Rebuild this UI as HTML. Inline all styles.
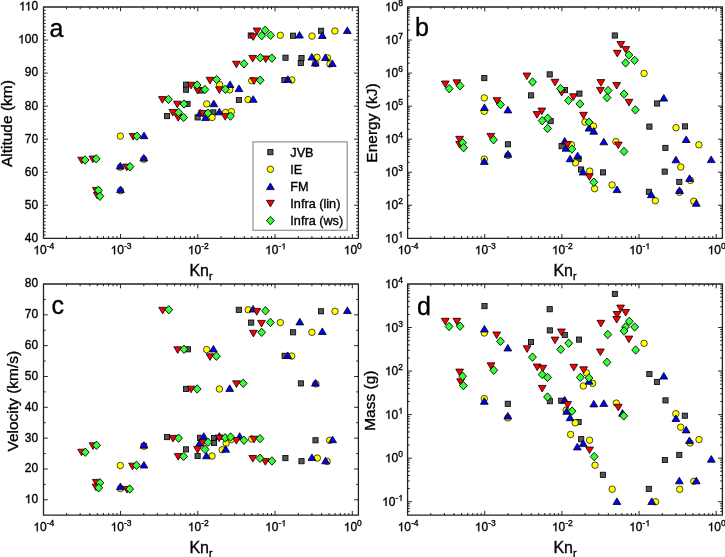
<!DOCTYPE html>
<html><head><meta charset="utf-8"><style>
html,body{margin:0;padding:0;background:#fff;}
svg{display:block;filter:blur(0.3px);font-family:"Liberation Sans",sans-serif;}
text{stroke:#000;stroke-width:0.35px;}
</style></head><body>
<svg width="725" height="557" viewBox="0 0 725 557" style='font-family:"Liberation Sans",sans-serif'>
<defs>
<rect id="mS" x="-2.6" y="-2.6" width="5.2" height="5.2" fill="#555" stroke="#000" stroke-width="0.8"/>
<circle id="mC" r="3.25" fill="#ff0" stroke="#000" stroke-width="0.7"/>
<polygon id="mU" points="0,-3.4 3.9,3.2 -3.9,3.2" fill="#00f" stroke="#000" stroke-width="0.8" stroke-linejoin="round"/>
<polygon id="mD" points="0,3.4 3.9,-3.2 -3.9,-3.2" fill="#f00" stroke="#000" stroke-width="0.8" stroke-linejoin="round"/>
<polygon id="mG" points="0,-4.2 3.9,0 0,4.2 -3.9,0" fill="#3f3" stroke="#000" stroke-width="0.9"/>
</defs>
<line x1="66.55" y1="238.30" x2="66.55" y2="236.10" stroke="#222" stroke-width="1.0"/>
<line x1="66.55" y1="7.00" x2="66.55" y2="9.20" stroke="#222" stroke-width="1.0"/>
<line x1="80.16" y1="238.30" x2="80.16" y2="236.10" stroke="#222" stroke-width="1.0"/>
<line x1="80.16" y1="7.00" x2="80.16" y2="9.20" stroke="#222" stroke-width="1.0"/>
<line x1="89.81" y1="238.30" x2="89.81" y2="236.10" stroke="#222" stroke-width="1.0"/>
<line x1="89.81" y1="7.00" x2="89.81" y2="9.20" stroke="#222" stroke-width="1.0"/>
<line x1="97.30" y1="238.30" x2="97.30" y2="236.10" stroke="#222" stroke-width="1.0"/>
<line x1="97.30" y1="7.00" x2="97.30" y2="9.20" stroke="#222" stroke-width="1.0"/>
<line x1="103.41" y1="238.30" x2="103.41" y2="236.10" stroke="#222" stroke-width="1.0"/>
<line x1="103.41" y1="7.00" x2="103.41" y2="9.20" stroke="#222" stroke-width="1.0"/>
<line x1="108.58" y1="238.30" x2="108.58" y2="236.10" stroke="#222" stroke-width="1.0"/>
<line x1="108.58" y1="7.00" x2="108.58" y2="9.20" stroke="#222" stroke-width="1.0"/>
<line x1="113.06" y1="238.30" x2="113.06" y2="236.10" stroke="#222" stroke-width="1.0"/>
<line x1="113.06" y1="7.00" x2="113.06" y2="9.20" stroke="#222" stroke-width="1.0"/>
<line x1="117.02" y1="238.30" x2="117.02" y2="236.10" stroke="#222" stroke-width="1.0"/>
<line x1="117.02" y1="7.00" x2="117.02" y2="9.20" stroke="#222" stroke-width="1.0"/>
<line x1="120.55" y1="238.30" x2="120.55" y2="234.00" stroke="#222" stroke-width="1.0"/>
<line x1="120.55" y1="7.00" x2="120.55" y2="11.30" stroke="#222" stroke-width="1.0"/>
<line x1="143.80" y1="238.30" x2="143.80" y2="236.10" stroke="#222" stroke-width="1.0"/>
<line x1="143.80" y1="7.00" x2="143.80" y2="9.20" stroke="#222" stroke-width="1.0"/>
<line x1="157.41" y1="238.30" x2="157.41" y2="236.10" stroke="#222" stroke-width="1.0"/>
<line x1="157.41" y1="7.00" x2="157.41" y2="9.20" stroke="#222" stroke-width="1.0"/>
<line x1="167.06" y1="238.30" x2="167.06" y2="236.10" stroke="#222" stroke-width="1.0"/>
<line x1="167.06" y1="7.00" x2="167.06" y2="9.20" stroke="#222" stroke-width="1.0"/>
<line x1="174.55" y1="238.30" x2="174.55" y2="236.10" stroke="#222" stroke-width="1.0"/>
<line x1="174.55" y1="7.00" x2="174.55" y2="9.20" stroke="#222" stroke-width="1.0"/>
<line x1="180.66" y1="238.30" x2="180.66" y2="236.10" stroke="#222" stroke-width="1.0"/>
<line x1="180.66" y1="7.00" x2="180.66" y2="9.20" stroke="#222" stroke-width="1.0"/>
<line x1="185.83" y1="238.30" x2="185.83" y2="236.10" stroke="#222" stroke-width="1.0"/>
<line x1="185.83" y1="7.00" x2="185.83" y2="9.20" stroke="#222" stroke-width="1.0"/>
<line x1="190.31" y1="238.30" x2="190.31" y2="236.10" stroke="#222" stroke-width="1.0"/>
<line x1="190.31" y1="7.00" x2="190.31" y2="9.20" stroke="#222" stroke-width="1.0"/>
<line x1="194.27" y1="238.30" x2="194.27" y2="236.10" stroke="#222" stroke-width="1.0"/>
<line x1="194.27" y1="7.00" x2="194.27" y2="9.20" stroke="#222" stroke-width="1.0"/>
<line x1="197.80" y1="238.30" x2="197.80" y2="234.00" stroke="#222" stroke-width="1.0"/>
<line x1="197.80" y1="7.00" x2="197.80" y2="11.30" stroke="#222" stroke-width="1.0"/>
<line x1="221.05" y1="238.30" x2="221.05" y2="236.10" stroke="#222" stroke-width="1.0"/>
<line x1="221.05" y1="7.00" x2="221.05" y2="9.20" stroke="#222" stroke-width="1.0"/>
<line x1="234.66" y1="238.30" x2="234.66" y2="236.10" stroke="#222" stroke-width="1.0"/>
<line x1="234.66" y1="7.00" x2="234.66" y2="9.20" stroke="#222" stroke-width="1.0"/>
<line x1="244.31" y1="238.30" x2="244.31" y2="236.10" stroke="#222" stroke-width="1.0"/>
<line x1="244.31" y1="7.00" x2="244.31" y2="9.20" stroke="#222" stroke-width="1.0"/>
<line x1="251.80" y1="238.30" x2="251.80" y2="236.10" stroke="#222" stroke-width="1.0"/>
<line x1="251.80" y1="7.00" x2="251.80" y2="9.20" stroke="#222" stroke-width="1.0"/>
<line x1="257.91" y1="238.30" x2="257.91" y2="236.10" stroke="#222" stroke-width="1.0"/>
<line x1="257.91" y1="7.00" x2="257.91" y2="9.20" stroke="#222" stroke-width="1.0"/>
<line x1="263.08" y1="238.30" x2="263.08" y2="236.10" stroke="#222" stroke-width="1.0"/>
<line x1="263.08" y1="7.00" x2="263.08" y2="9.20" stroke="#222" stroke-width="1.0"/>
<line x1="267.56" y1="238.30" x2="267.56" y2="236.10" stroke="#222" stroke-width="1.0"/>
<line x1="267.56" y1="7.00" x2="267.56" y2="9.20" stroke="#222" stroke-width="1.0"/>
<line x1="271.52" y1="238.30" x2="271.52" y2="236.10" stroke="#222" stroke-width="1.0"/>
<line x1="271.52" y1="7.00" x2="271.52" y2="9.20" stroke="#222" stroke-width="1.0"/>
<line x1="275.05" y1="238.30" x2="275.05" y2="234.00" stroke="#222" stroke-width="1.0"/>
<line x1="275.05" y1="7.00" x2="275.05" y2="11.30" stroke="#222" stroke-width="1.0"/>
<line x1="298.30" y1="238.30" x2="298.30" y2="236.10" stroke="#222" stroke-width="1.0"/>
<line x1="298.30" y1="7.00" x2="298.30" y2="9.20" stroke="#222" stroke-width="1.0"/>
<line x1="311.91" y1="238.30" x2="311.91" y2="236.10" stroke="#222" stroke-width="1.0"/>
<line x1="311.91" y1="7.00" x2="311.91" y2="9.20" stroke="#222" stroke-width="1.0"/>
<line x1="321.56" y1="238.30" x2="321.56" y2="236.10" stroke="#222" stroke-width="1.0"/>
<line x1="321.56" y1="7.00" x2="321.56" y2="9.20" stroke="#222" stroke-width="1.0"/>
<line x1="329.05" y1="238.30" x2="329.05" y2="236.10" stroke="#222" stroke-width="1.0"/>
<line x1="329.05" y1="7.00" x2="329.05" y2="9.20" stroke="#222" stroke-width="1.0"/>
<line x1="335.16" y1="238.30" x2="335.16" y2="236.10" stroke="#222" stroke-width="1.0"/>
<line x1="335.16" y1="7.00" x2="335.16" y2="9.20" stroke="#222" stroke-width="1.0"/>
<line x1="340.33" y1="238.30" x2="340.33" y2="236.10" stroke="#222" stroke-width="1.0"/>
<line x1="340.33" y1="7.00" x2="340.33" y2="9.20" stroke="#222" stroke-width="1.0"/>
<line x1="344.81" y1="238.30" x2="344.81" y2="236.10" stroke="#222" stroke-width="1.0"/>
<line x1="344.81" y1="7.00" x2="344.81" y2="9.20" stroke="#222" stroke-width="1.0"/>
<line x1="348.77" y1="238.30" x2="348.77" y2="236.10" stroke="#222" stroke-width="1.0"/>
<line x1="348.77" y1="7.00" x2="348.77" y2="9.20" stroke="#222" stroke-width="1.0"/>
<line x1="352.30" y1="238.30" x2="352.30" y2="234.00" stroke="#222" stroke-width="1.0"/>
<line x1="352.30" y1="7.00" x2="352.30" y2="11.30" stroke="#222" stroke-width="1.0"/>
<path d="M763,0L583,0L583,1147Q518,1085 412.5,1023Q307,961 223,930L223,1104Q374,1175 487,1276Q600,1377 647,1466L763,1466Z" transform="translate(33.35,254.30) scale(0.00586,-0.00586)" stroke="#000" stroke-width="59.7"/>
<text x="40.02" y="254.30" font-size="12" text-anchor="start" >0</text>
<text x="46.69" y="249.30" font-size="8.5" text-anchor="start" >-4</text>
<path d="M763,0L583,0L583,1147Q518,1085 412.5,1023Q307,961 223,930L223,1104Q374,1175 487,1276Q600,1377 647,1466L763,1466Z" transform="translate(110.60,254.30) scale(0.00586,-0.00586)" stroke="#000" stroke-width="59.7"/>
<text x="117.27" y="254.30" font-size="12" text-anchor="start" >0</text>
<text x="123.94" y="249.30" font-size="8.5" text-anchor="start" >-3</text>
<path d="M763,0L583,0L583,1147Q518,1085 412.5,1023Q307,961 223,930L223,1104Q374,1175 487,1276Q600,1377 647,1466L763,1466Z" transform="translate(187.85,254.30) scale(0.00586,-0.00586)" stroke="#000" stroke-width="59.7"/>
<text x="194.52" y="254.30" font-size="12" text-anchor="start" >0</text>
<text x="201.19" y="249.30" font-size="8.5" text-anchor="start" >-2</text>
<path d="M763,0L583,0L583,1147Q518,1085 412.5,1023Q307,961 223,930L223,1104Q374,1175 487,1276Q600,1377 647,1466L763,1466Z" transform="translate(265.10,254.30) scale(0.00586,-0.00586)" stroke="#000" stroke-width="59.7"/>
<text x="271.77" y="254.30" font-size="12" text-anchor="start" >0</text>
<text x="278.44" y="249.30" font-size="8.5" text-anchor="start" >-</text>
<path d="M763,0L583,0L583,1147Q518,1085 412.5,1023Q307,961 223,930L223,1104Q374,1175 487,1276Q600,1377 647,1466L763,1466Z" transform="translate(281.28,249.30) scale(0.00415,-0.00415)" stroke="#000" stroke-width="84.3"/>
<path d="M763,0L583,0L583,1147Q518,1085 412.5,1023Q307,961 223,930L223,1104Q374,1175 487,1276Q600,1377 647,1466L763,1466Z" transform="translate(343.76,254.30) scale(0.00586,-0.00586)" stroke="#000" stroke-width="59.7"/>
<text x="350.44" y="254.30" font-size="12" text-anchor="start" >0</text>
<text x="357.11" y="249.30" font-size="8.5" text-anchor="start" >0</text>
<line x1="43.50" y1="235.00" x2="45.70" y2="235.00" stroke="#222" stroke-width="1.0"/>
<line x1="358.40" y1="235.00" x2="356.20" y2="235.00" stroke="#222" stroke-width="1.0"/>
<line x1="43.50" y1="231.69" x2="45.70" y2="231.69" stroke="#222" stroke-width="1.0"/>
<line x1="358.40" y1="231.69" x2="356.20" y2="231.69" stroke="#222" stroke-width="1.0"/>
<line x1="43.50" y1="228.39" x2="45.70" y2="228.39" stroke="#222" stroke-width="1.0"/>
<line x1="358.40" y1="228.39" x2="356.20" y2="228.39" stroke="#222" stroke-width="1.0"/>
<line x1="43.50" y1="225.08" x2="45.70" y2="225.08" stroke="#222" stroke-width="1.0"/>
<line x1="358.40" y1="225.08" x2="356.20" y2="225.08" stroke="#222" stroke-width="1.0"/>
<line x1="43.50" y1="221.78" x2="45.70" y2="221.78" stroke="#222" stroke-width="1.0"/>
<line x1="358.40" y1="221.78" x2="356.20" y2="221.78" stroke="#222" stroke-width="1.0"/>
<line x1="43.50" y1="218.47" x2="45.70" y2="218.47" stroke="#222" stroke-width="1.0"/>
<line x1="358.40" y1="218.47" x2="356.20" y2="218.47" stroke="#222" stroke-width="1.0"/>
<line x1="43.50" y1="215.17" x2="45.70" y2="215.17" stroke="#222" stroke-width="1.0"/>
<line x1="358.40" y1="215.17" x2="356.20" y2="215.17" stroke="#222" stroke-width="1.0"/>
<line x1="43.50" y1="211.87" x2="45.70" y2="211.87" stroke="#222" stroke-width="1.0"/>
<line x1="358.40" y1="211.87" x2="356.20" y2="211.87" stroke="#222" stroke-width="1.0"/>
<line x1="43.50" y1="208.56" x2="45.70" y2="208.56" stroke="#222" stroke-width="1.0"/>
<line x1="358.40" y1="208.56" x2="356.20" y2="208.56" stroke="#222" stroke-width="1.0"/>
<line x1="43.50" y1="205.26" x2="47.80" y2="205.26" stroke="#222" stroke-width="1.0"/>
<line x1="358.40" y1="205.26" x2="354.10" y2="205.26" stroke="#222" stroke-width="1.0"/>
<line x1="43.50" y1="201.95" x2="45.70" y2="201.95" stroke="#222" stroke-width="1.0"/>
<line x1="358.40" y1="201.95" x2="356.20" y2="201.95" stroke="#222" stroke-width="1.0"/>
<line x1="43.50" y1="198.65" x2="45.70" y2="198.65" stroke="#222" stroke-width="1.0"/>
<line x1="358.40" y1="198.65" x2="356.20" y2="198.65" stroke="#222" stroke-width="1.0"/>
<line x1="43.50" y1="195.34" x2="45.70" y2="195.34" stroke="#222" stroke-width="1.0"/>
<line x1="358.40" y1="195.34" x2="356.20" y2="195.34" stroke="#222" stroke-width="1.0"/>
<line x1="43.50" y1="192.04" x2="45.70" y2="192.04" stroke="#222" stroke-width="1.0"/>
<line x1="358.40" y1="192.04" x2="356.20" y2="192.04" stroke="#222" stroke-width="1.0"/>
<line x1="43.50" y1="188.74" x2="45.70" y2="188.74" stroke="#222" stroke-width="1.0"/>
<line x1="358.40" y1="188.74" x2="356.20" y2="188.74" stroke="#222" stroke-width="1.0"/>
<line x1="43.50" y1="185.43" x2="45.70" y2="185.43" stroke="#222" stroke-width="1.0"/>
<line x1="358.40" y1="185.43" x2="356.20" y2="185.43" stroke="#222" stroke-width="1.0"/>
<line x1="43.50" y1="182.13" x2="45.70" y2="182.13" stroke="#222" stroke-width="1.0"/>
<line x1="358.40" y1="182.13" x2="356.20" y2="182.13" stroke="#222" stroke-width="1.0"/>
<line x1="43.50" y1="178.82" x2="45.70" y2="178.82" stroke="#222" stroke-width="1.0"/>
<line x1="358.40" y1="178.82" x2="356.20" y2="178.82" stroke="#222" stroke-width="1.0"/>
<line x1="43.50" y1="175.52" x2="45.70" y2="175.52" stroke="#222" stroke-width="1.0"/>
<line x1="358.40" y1="175.52" x2="356.20" y2="175.52" stroke="#222" stroke-width="1.0"/>
<line x1="43.50" y1="172.21" x2="47.80" y2="172.21" stroke="#222" stroke-width="1.0"/>
<line x1="358.40" y1="172.21" x2="354.10" y2="172.21" stroke="#222" stroke-width="1.0"/>
<line x1="43.50" y1="168.91" x2="45.70" y2="168.91" stroke="#222" stroke-width="1.0"/>
<line x1="358.40" y1="168.91" x2="356.20" y2="168.91" stroke="#222" stroke-width="1.0"/>
<line x1="43.50" y1="165.61" x2="45.70" y2="165.61" stroke="#222" stroke-width="1.0"/>
<line x1="358.40" y1="165.61" x2="356.20" y2="165.61" stroke="#222" stroke-width="1.0"/>
<line x1="43.50" y1="162.30" x2="45.70" y2="162.30" stroke="#222" stroke-width="1.0"/>
<line x1="358.40" y1="162.30" x2="356.20" y2="162.30" stroke="#222" stroke-width="1.0"/>
<line x1="43.50" y1="159.00" x2="45.70" y2="159.00" stroke="#222" stroke-width="1.0"/>
<line x1="358.40" y1="159.00" x2="356.20" y2="159.00" stroke="#222" stroke-width="1.0"/>
<line x1="43.50" y1="155.69" x2="45.70" y2="155.69" stroke="#222" stroke-width="1.0"/>
<line x1="358.40" y1="155.69" x2="356.20" y2="155.69" stroke="#222" stroke-width="1.0"/>
<line x1="43.50" y1="152.39" x2="45.70" y2="152.39" stroke="#222" stroke-width="1.0"/>
<line x1="358.40" y1="152.39" x2="356.20" y2="152.39" stroke="#222" stroke-width="1.0"/>
<line x1="43.50" y1="149.08" x2="45.70" y2="149.08" stroke="#222" stroke-width="1.0"/>
<line x1="358.40" y1="149.08" x2="356.20" y2="149.08" stroke="#222" stroke-width="1.0"/>
<line x1="43.50" y1="145.78" x2="45.70" y2="145.78" stroke="#222" stroke-width="1.0"/>
<line x1="358.40" y1="145.78" x2="356.20" y2="145.78" stroke="#222" stroke-width="1.0"/>
<line x1="43.50" y1="142.48" x2="45.70" y2="142.48" stroke="#222" stroke-width="1.0"/>
<line x1="358.40" y1="142.48" x2="356.20" y2="142.48" stroke="#222" stroke-width="1.0"/>
<line x1="43.50" y1="139.17" x2="47.80" y2="139.17" stroke="#222" stroke-width="1.0"/>
<line x1="358.40" y1="139.17" x2="354.10" y2="139.17" stroke="#222" stroke-width="1.0"/>
<line x1="43.50" y1="135.87" x2="45.70" y2="135.87" stroke="#222" stroke-width="1.0"/>
<line x1="358.40" y1="135.87" x2="356.20" y2="135.87" stroke="#222" stroke-width="1.0"/>
<line x1="43.50" y1="132.56" x2="45.70" y2="132.56" stroke="#222" stroke-width="1.0"/>
<line x1="358.40" y1="132.56" x2="356.20" y2="132.56" stroke="#222" stroke-width="1.0"/>
<line x1="43.50" y1="129.26" x2="45.70" y2="129.26" stroke="#222" stroke-width="1.0"/>
<line x1="358.40" y1="129.26" x2="356.20" y2="129.26" stroke="#222" stroke-width="1.0"/>
<line x1="43.50" y1="125.95" x2="45.70" y2="125.95" stroke="#222" stroke-width="1.0"/>
<line x1="358.40" y1="125.95" x2="356.20" y2="125.95" stroke="#222" stroke-width="1.0"/>
<line x1="43.50" y1="122.65" x2="45.70" y2="122.65" stroke="#222" stroke-width="1.0"/>
<line x1="358.40" y1="122.65" x2="356.20" y2="122.65" stroke="#222" stroke-width="1.0"/>
<line x1="43.50" y1="119.35" x2="45.70" y2="119.35" stroke="#222" stroke-width="1.0"/>
<line x1="358.40" y1="119.35" x2="356.20" y2="119.35" stroke="#222" stroke-width="1.0"/>
<line x1="43.50" y1="116.04" x2="45.70" y2="116.04" stroke="#222" stroke-width="1.0"/>
<line x1="358.40" y1="116.04" x2="356.20" y2="116.04" stroke="#222" stroke-width="1.0"/>
<line x1="43.50" y1="112.74" x2="45.70" y2="112.74" stroke="#222" stroke-width="1.0"/>
<line x1="358.40" y1="112.74" x2="356.20" y2="112.74" stroke="#222" stroke-width="1.0"/>
<line x1="43.50" y1="109.43" x2="45.70" y2="109.43" stroke="#222" stroke-width="1.0"/>
<line x1="358.40" y1="109.43" x2="356.20" y2="109.43" stroke="#222" stroke-width="1.0"/>
<line x1="43.50" y1="106.13" x2="47.80" y2="106.13" stroke="#222" stroke-width="1.0"/>
<line x1="358.40" y1="106.13" x2="354.10" y2="106.13" stroke="#222" stroke-width="1.0"/>
<line x1="43.50" y1="102.82" x2="45.70" y2="102.82" stroke="#222" stroke-width="1.0"/>
<line x1="358.40" y1="102.82" x2="356.20" y2="102.82" stroke="#222" stroke-width="1.0"/>
<line x1="43.50" y1="99.52" x2="45.70" y2="99.52" stroke="#222" stroke-width="1.0"/>
<line x1="358.40" y1="99.52" x2="356.20" y2="99.52" stroke="#222" stroke-width="1.0"/>
<line x1="43.50" y1="96.22" x2="45.70" y2="96.22" stroke="#222" stroke-width="1.0"/>
<line x1="358.40" y1="96.22" x2="356.20" y2="96.22" stroke="#222" stroke-width="1.0"/>
<line x1="43.50" y1="92.91" x2="45.70" y2="92.91" stroke="#222" stroke-width="1.0"/>
<line x1="358.40" y1="92.91" x2="356.20" y2="92.91" stroke="#222" stroke-width="1.0"/>
<line x1="43.50" y1="89.61" x2="45.70" y2="89.61" stroke="#222" stroke-width="1.0"/>
<line x1="358.40" y1="89.61" x2="356.20" y2="89.61" stroke="#222" stroke-width="1.0"/>
<line x1="43.50" y1="86.30" x2="45.70" y2="86.30" stroke="#222" stroke-width="1.0"/>
<line x1="358.40" y1="86.30" x2="356.20" y2="86.30" stroke="#222" stroke-width="1.0"/>
<line x1="43.50" y1="83.00" x2="45.70" y2="83.00" stroke="#222" stroke-width="1.0"/>
<line x1="358.40" y1="83.00" x2="356.20" y2="83.00" stroke="#222" stroke-width="1.0"/>
<line x1="43.50" y1="79.69" x2="45.70" y2="79.69" stroke="#222" stroke-width="1.0"/>
<line x1="358.40" y1="79.69" x2="356.20" y2="79.69" stroke="#222" stroke-width="1.0"/>
<line x1="43.50" y1="76.39" x2="45.70" y2="76.39" stroke="#222" stroke-width="1.0"/>
<line x1="358.40" y1="76.39" x2="356.20" y2="76.39" stroke="#222" stroke-width="1.0"/>
<line x1="43.50" y1="73.09" x2="47.80" y2="73.09" stroke="#222" stroke-width="1.0"/>
<line x1="358.40" y1="73.09" x2="354.10" y2="73.09" stroke="#222" stroke-width="1.0"/>
<line x1="43.50" y1="69.78" x2="45.70" y2="69.78" stroke="#222" stroke-width="1.0"/>
<line x1="358.40" y1="69.78" x2="356.20" y2="69.78" stroke="#222" stroke-width="1.0"/>
<line x1="43.50" y1="66.48" x2="45.70" y2="66.48" stroke="#222" stroke-width="1.0"/>
<line x1="358.40" y1="66.48" x2="356.20" y2="66.48" stroke="#222" stroke-width="1.0"/>
<line x1="43.50" y1="63.17" x2="45.70" y2="63.17" stroke="#222" stroke-width="1.0"/>
<line x1="358.40" y1="63.17" x2="356.20" y2="63.17" stroke="#222" stroke-width="1.0"/>
<line x1="43.50" y1="59.87" x2="45.70" y2="59.87" stroke="#222" stroke-width="1.0"/>
<line x1="358.40" y1="59.87" x2="356.20" y2="59.87" stroke="#222" stroke-width="1.0"/>
<line x1="43.50" y1="56.56" x2="45.70" y2="56.56" stroke="#222" stroke-width="1.0"/>
<line x1="358.40" y1="56.56" x2="356.20" y2="56.56" stroke="#222" stroke-width="1.0"/>
<line x1="43.50" y1="53.26" x2="45.70" y2="53.26" stroke="#222" stroke-width="1.0"/>
<line x1="358.40" y1="53.26" x2="356.20" y2="53.26" stroke="#222" stroke-width="1.0"/>
<line x1="43.50" y1="49.96" x2="45.70" y2="49.96" stroke="#222" stroke-width="1.0"/>
<line x1="358.40" y1="49.96" x2="356.20" y2="49.96" stroke="#222" stroke-width="1.0"/>
<line x1="43.50" y1="46.65" x2="45.70" y2="46.65" stroke="#222" stroke-width="1.0"/>
<line x1="358.40" y1="46.65" x2="356.20" y2="46.65" stroke="#222" stroke-width="1.0"/>
<line x1="43.50" y1="43.35" x2="45.70" y2="43.35" stroke="#222" stroke-width="1.0"/>
<line x1="358.40" y1="43.35" x2="356.20" y2="43.35" stroke="#222" stroke-width="1.0"/>
<line x1="43.50" y1="40.04" x2="47.80" y2="40.04" stroke="#222" stroke-width="1.0"/>
<line x1="358.40" y1="40.04" x2="354.10" y2="40.04" stroke="#222" stroke-width="1.0"/>
<line x1="43.50" y1="36.74" x2="45.70" y2="36.74" stroke="#222" stroke-width="1.0"/>
<line x1="358.40" y1="36.74" x2="356.20" y2="36.74" stroke="#222" stroke-width="1.0"/>
<line x1="43.50" y1="33.43" x2="45.70" y2="33.43" stroke="#222" stroke-width="1.0"/>
<line x1="358.40" y1="33.43" x2="356.20" y2="33.43" stroke="#222" stroke-width="1.0"/>
<line x1="43.50" y1="30.13" x2="45.70" y2="30.13" stroke="#222" stroke-width="1.0"/>
<line x1="358.40" y1="30.13" x2="356.20" y2="30.13" stroke="#222" stroke-width="1.0"/>
<line x1="43.50" y1="26.83" x2="45.70" y2="26.83" stroke="#222" stroke-width="1.0"/>
<line x1="358.40" y1="26.83" x2="356.20" y2="26.83" stroke="#222" stroke-width="1.0"/>
<line x1="43.50" y1="23.52" x2="45.70" y2="23.52" stroke="#222" stroke-width="1.0"/>
<line x1="358.40" y1="23.52" x2="356.20" y2="23.52" stroke="#222" stroke-width="1.0"/>
<line x1="43.50" y1="20.22" x2="45.70" y2="20.22" stroke="#222" stroke-width="1.0"/>
<line x1="358.40" y1="20.22" x2="356.20" y2="20.22" stroke="#222" stroke-width="1.0"/>
<line x1="43.50" y1="16.91" x2="45.70" y2="16.91" stroke="#222" stroke-width="1.0"/>
<line x1="358.40" y1="16.91" x2="356.20" y2="16.91" stroke="#222" stroke-width="1.0"/>
<line x1="43.50" y1="13.61" x2="45.70" y2="13.61" stroke="#222" stroke-width="1.0"/>
<line x1="358.40" y1="13.61" x2="356.20" y2="13.61" stroke="#222" stroke-width="1.0"/>
<line x1="43.50" y1="10.30" x2="45.70" y2="10.30" stroke="#222" stroke-width="1.0"/>
<line x1="358.40" y1="10.30" x2="356.20" y2="10.30" stroke="#222" stroke-width="1.0"/>
<text x="24.75" y="241.70" font-size="12" text-anchor="start" >40</text>
<text x="24.75" y="208.66" font-size="12" text-anchor="start" >50</text>
<text x="24.75" y="175.61" font-size="12" text-anchor="start" >60</text>
<text x="24.75" y="142.57" font-size="12" text-anchor="start" >70</text>
<text x="24.75" y="109.53" font-size="12" text-anchor="start" >80</text>
<text x="24.75" y="76.49" font-size="12" text-anchor="start" >90</text>
<path d="M763,0L583,0L583,1147Q518,1085 412.5,1023Q307,961 223,930L223,1104Q374,1175 487,1276Q600,1377 647,1466L763,1466Z" transform="translate(18.08,43.44) scale(0.00586,-0.00586)" stroke="#000" stroke-width="59.7"/>
<text x="24.75" y="43.44" font-size="12" text-anchor="start" >00</text>
<path d="M763,0L583,0L583,1147Q518,1085 412.5,1023Q307,961 223,930L223,1104Q374,1175 487,1276Q600,1377 647,1466L763,1466Z" transform="translate(18.97,10.40) scale(0.00586,-0.00586)" stroke="#000" stroke-width="59.7"/>
<path d="M763,0L583,0L583,1147Q518,1085 412.5,1023Q307,961 223,930L223,1104Q374,1175 487,1276Q600,1377 647,1466L763,1466Z" transform="translate(24.75,10.40) scale(0.00586,-0.00586)" stroke="#000" stroke-width="59.7"/>
<text x="31.43" y="10.40" font-size="12" text-anchor="start" >0</text>
<rect x="43.50" y="7.00" width="314.90" height="231.30" fill="none" stroke="#222" stroke-width="1.3" stroke-linejoin="round"/>
<line x1="430.82" y1="238.30" x2="430.82" y2="236.10" stroke="#222" stroke-width="1.0"/>
<line x1="430.82" y1="7.00" x2="430.82" y2="9.20" stroke="#222" stroke-width="1.0"/>
<line x1="444.41" y1="238.30" x2="444.41" y2="236.10" stroke="#222" stroke-width="1.0"/>
<line x1="444.41" y1="7.00" x2="444.41" y2="9.20" stroke="#222" stroke-width="1.0"/>
<line x1="454.05" y1="238.30" x2="454.05" y2="236.10" stroke="#222" stroke-width="1.0"/>
<line x1="454.05" y1="7.00" x2="454.05" y2="9.20" stroke="#222" stroke-width="1.0"/>
<line x1="461.53" y1="238.30" x2="461.53" y2="236.10" stroke="#222" stroke-width="1.0"/>
<line x1="461.53" y1="7.00" x2="461.53" y2="9.20" stroke="#222" stroke-width="1.0"/>
<line x1="467.63" y1="238.30" x2="467.63" y2="236.10" stroke="#222" stroke-width="1.0"/>
<line x1="467.63" y1="7.00" x2="467.63" y2="9.20" stroke="#222" stroke-width="1.0"/>
<line x1="472.80" y1="238.30" x2="472.80" y2="236.10" stroke="#222" stroke-width="1.0"/>
<line x1="472.80" y1="7.00" x2="472.80" y2="9.20" stroke="#222" stroke-width="1.0"/>
<line x1="477.27" y1="238.30" x2="477.27" y2="236.10" stroke="#222" stroke-width="1.0"/>
<line x1="477.27" y1="7.00" x2="477.27" y2="9.20" stroke="#222" stroke-width="1.0"/>
<line x1="481.22" y1="238.30" x2="481.22" y2="236.10" stroke="#222" stroke-width="1.0"/>
<line x1="481.22" y1="7.00" x2="481.22" y2="9.20" stroke="#222" stroke-width="1.0"/>
<line x1="484.75" y1="238.30" x2="484.75" y2="234.00" stroke="#222" stroke-width="1.0"/>
<line x1="484.75" y1="7.00" x2="484.75" y2="11.30" stroke="#222" stroke-width="1.0"/>
<line x1="507.97" y1="238.30" x2="507.97" y2="236.10" stroke="#222" stroke-width="1.0"/>
<line x1="507.97" y1="7.00" x2="507.97" y2="9.20" stroke="#222" stroke-width="1.0"/>
<line x1="521.56" y1="238.30" x2="521.56" y2="236.10" stroke="#222" stroke-width="1.0"/>
<line x1="521.56" y1="7.00" x2="521.56" y2="9.20" stroke="#222" stroke-width="1.0"/>
<line x1="531.20" y1="238.30" x2="531.20" y2="236.10" stroke="#222" stroke-width="1.0"/>
<line x1="531.20" y1="7.00" x2="531.20" y2="9.20" stroke="#222" stroke-width="1.0"/>
<line x1="538.68" y1="238.30" x2="538.68" y2="236.10" stroke="#222" stroke-width="1.0"/>
<line x1="538.68" y1="7.00" x2="538.68" y2="9.20" stroke="#222" stroke-width="1.0"/>
<line x1="544.78" y1="238.30" x2="544.78" y2="236.10" stroke="#222" stroke-width="1.0"/>
<line x1="544.78" y1="7.00" x2="544.78" y2="9.20" stroke="#222" stroke-width="1.0"/>
<line x1="549.95" y1="238.30" x2="549.95" y2="236.10" stroke="#222" stroke-width="1.0"/>
<line x1="549.95" y1="7.00" x2="549.95" y2="9.20" stroke="#222" stroke-width="1.0"/>
<line x1="554.42" y1="238.30" x2="554.42" y2="236.10" stroke="#222" stroke-width="1.0"/>
<line x1="554.42" y1="7.00" x2="554.42" y2="9.20" stroke="#222" stroke-width="1.0"/>
<line x1="558.37" y1="238.30" x2="558.37" y2="236.10" stroke="#222" stroke-width="1.0"/>
<line x1="558.37" y1="7.00" x2="558.37" y2="9.20" stroke="#222" stroke-width="1.0"/>
<line x1="561.90" y1="238.30" x2="561.90" y2="234.00" stroke="#222" stroke-width="1.0"/>
<line x1="561.90" y1="7.00" x2="561.90" y2="11.30" stroke="#222" stroke-width="1.0"/>
<line x1="585.12" y1="238.30" x2="585.12" y2="236.10" stroke="#222" stroke-width="1.0"/>
<line x1="585.12" y1="7.00" x2="585.12" y2="9.20" stroke="#222" stroke-width="1.0"/>
<line x1="598.71" y1="238.30" x2="598.71" y2="236.10" stroke="#222" stroke-width="1.0"/>
<line x1="598.71" y1="7.00" x2="598.71" y2="9.20" stroke="#222" stroke-width="1.0"/>
<line x1="608.35" y1="238.30" x2="608.35" y2="236.10" stroke="#222" stroke-width="1.0"/>
<line x1="608.35" y1="7.00" x2="608.35" y2="9.20" stroke="#222" stroke-width="1.0"/>
<line x1="615.83" y1="238.30" x2="615.83" y2="236.10" stroke="#222" stroke-width="1.0"/>
<line x1="615.83" y1="7.00" x2="615.83" y2="9.20" stroke="#222" stroke-width="1.0"/>
<line x1="621.93" y1="238.30" x2="621.93" y2="236.10" stroke="#222" stroke-width="1.0"/>
<line x1="621.93" y1="7.00" x2="621.93" y2="9.20" stroke="#222" stroke-width="1.0"/>
<line x1="627.10" y1="238.30" x2="627.10" y2="236.10" stroke="#222" stroke-width="1.0"/>
<line x1="627.10" y1="7.00" x2="627.10" y2="9.20" stroke="#222" stroke-width="1.0"/>
<line x1="631.57" y1="238.30" x2="631.57" y2="236.10" stroke="#222" stroke-width="1.0"/>
<line x1="631.57" y1="7.00" x2="631.57" y2="9.20" stroke="#222" stroke-width="1.0"/>
<line x1="635.52" y1="238.30" x2="635.52" y2="236.10" stroke="#222" stroke-width="1.0"/>
<line x1="635.52" y1="7.00" x2="635.52" y2="9.20" stroke="#222" stroke-width="1.0"/>
<line x1="639.05" y1="238.30" x2="639.05" y2="234.00" stroke="#222" stroke-width="1.0"/>
<line x1="639.05" y1="7.00" x2="639.05" y2="11.30" stroke="#222" stroke-width="1.0"/>
<line x1="662.27" y1="238.30" x2="662.27" y2="236.10" stroke="#222" stroke-width="1.0"/>
<line x1="662.27" y1="7.00" x2="662.27" y2="9.20" stroke="#222" stroke-width="1.0"/>
<line x1="675.86" y1="238.30" x2="675.86" y2="236.10" stroke="#222" stroke-width="1.0"/>
<line x1="675.86" y1="7.00" x2="675.86" y2="9.20" stroke="#222" stroke-width="1.0"/>
<line x1="685.50" y1="238.30" x2="685.50" y2="236.10" stroke="#222" stroke-width="1.0"/>
<line x1="685.50" y1="7.00" x2="685.50" y2="9.20" stroke="#222" stroke-width="1.0"/>
<line x1="692.98" y1="238.30" x2="692.98" y2="236.10" stroke="#222" stroke-width="1.0"/>
<line x1="692.98" y1="7.00" x2="692.98" y2="9.20" stroke="#222" stroke-width="1.0"/>
<line x1="699.08" y1="238.30" x2="699.08" y2="236.10" stroke="#222" stroke-width="1.0"/>
<line x1="699.08" y1="7.00" x2="699.08" y2="9.20" stroke="#222" stroke-width="1.0"/>
<line x1="704.25" y1="238.30" x2="704.25" y2="236.10" stroke="#222" stroke-width="1.0"/>
<line x1="704.25" y1="7.00" x2="704.25" y2="9.20" stroke="#222" stroke-width="1.0"/>
<line x1="708.72" y1="238.30" x2="708.72" y2="236.10" stroke="#222" stroke-width="1.0"/>
<line x1="708.72" y1="7.00" x2="708.72" y2="9.20" stroke="#222" stroke-width="1.0"/>
<line x1="712.67" y1="238.30" x2="712.67" y2="236.10" stroke="#222" stroke-width="1.0"/>
<line x1="712.67" y1="7.00" x2="712.67" y2="9.20" stroke="#222" stroke-width="1.0"/>
<line x1="716.20" y1="238.30" x2="716.20" y2="234.00" stroke="#222" stroke-width="1.0"/>
<line x1="716.20" y1="7.00" x2="716.20" y2="11.30" stroke="#222" stroke-width="1.0"/>
<path d="M763,0L583,0L583,1147Q518,1085 412.5,1023Q307,961 223,930L223,1104Q374,1175 487,1276Q600,1377 647,1466L763,1466Z" transform="translate(397.65,254.30) scale(0.00586,-0.00586)" stroke="#000" stroke-width="59.7"/>
<text x="404.32" y="254.30" font-size="12" text-anchor="start" >0</text>
<text x="410.99" y="249.30" font-size="8.5" text-anchor="start" >-4</text>
<path d="M763,0L583,0L583,1147Q518,1085 412.5,1023Q307,961 223,930L223,1104Q374,1175 487,1276Q600,1377 647,1466L763,1466Z" transform="translate(474.80,254.30) scale(0.00586,-0.00586)" stroke="#000" stroke-width="59.7"/>
<text x="481.47" y="254.30" font-size="12" text-anchor="start" >0</text>
<text x="488.14" y="249.30" font-size="8.5" text-anchor="start" >-3</text>
<path d="M763,0L583,0L583,1147Q518,1085 412.5,1023Q307,961 223,930L223,1104Q374,1175 487,1276Q600,1377 647,1466L763,1466Z" transform="translate(551.95,254.30) scale(0.00586,-0.00586)" stroke="#000" stroke-width="59.7"/>
<text x="558.62" y="254.30" font-size="12" text-anchor="start" >0</text>
<text x="565.29" y="249.30" font-size="8.5" text-anchor="start" >-2</text>
<path d="M763,0L583,0L583,1147Q518,1085 412.5,1023Q307,961 223,930L223,1104Q374,1175 487,1276Q600,1377 647,1466L763,1466Z" transform="translate(629.10,254.30) scale(0.00586,-0.00586)" stroke="#000" stroke-width="59.7"/>
<text x="635.77" y="254.30" font-size="12" text-anchor="start" >0</text>
<text x="642.44" y="249.30" font-size="8.5" text-anchor="start" >-</text>
<path d="M763,0L583,0L583,1147Q518,1085 412.5,1023Q307,961 223,930L223,1104Q374,1175 487,1276Q600,1377 647,1466L763,1466Z" transform="translate(645.28,249.30) scale(0.00415,-0.00415)" stroke="#000" stroke-width="84.3"/>
<path d="M763,0L583,0L583,1147Q518,1085 412.5,1023Q307,961 223,930L223,1104Q374,1175 487,1276Q600,1377 647,1466L763,1466Z" transform="translate(707.66,254.30) scale(0.00586,-0.00586)" stroke="#000" stroke-width="59.7"/>
<text x="714.34" y="254.30" font-size="12" text-anchor="start" >0</text>
<text x="721.01" y="249.30" font-size="8.5" text-anchor="start" >0</text>
<line x1="407.60" y1="228.35" x2="409.80" y2="228.35" stroke="#222" stroke-width="1.0"/>
<line x1="722.40" y1="228.35" x2="720.20" y2="228.35" stroke="#222" stroke-width="1.0"/>
<line x1="407.60" y1="222.53" x2="409.80" y2="222.53" stroke="#222" stroke-width="1.0"/>
<line x1="722.40" y1="222.53" x2="720.20" y2="222.53" stroke="#222" stroke-width="1.0"/>
<line x1="407.60" y1="218.41" x2="409.80" y2="218.41" stroke="#222" stroke-width="1.0"/>
<line x1="722.40" y1="218.41" x2="720.20" y2="218.41" stroke="#222" stroke-width="1.0"/>
<line x1="407.60" y1="215.20" x2="409.80" y2="215.20" stroke="#222" stroke-width="1.0"/>
<line x1="722.40" y1="215.20" x2="720.20" y2="215.20" stroke="#222" stroke-width="1.0"/>
<line x1="407.60" y1="212.59" x2="409.80" y2="212.59" stroke="#222" stroke-width="1.0"/>
<line x1="722.40" y1="212.59" x2="720.20" y2="212.59" stroke="#222" stroke-width="1.0"/>
<line x1="407.60" y1="210.38" x2="409.80" y2="210.38" stroke="#222" stroke-width="1.0"/>
<line x1="722.40" y1="210.38" x2="720.20" y2="210.38" stroke="#222" stroke-width="1.0"/>
<line x1="407.60" y1="208.46" x2="409.80" y2="208.46" stroke="#222" stroke-width="1.0"/>
<line x1="722.40" y1="208.46" x2="720.20" y2="208.46" stroke="#222" stroke-width="1.0"/>
<line x1="407.60" y1="206.77" x2="409.80" y2="206.77" stroke="#222" stroke-width="1.0"/>
<line x1="722.40" y1="206.77" x2="720.20" y2="206.77" stroke="#222" stroke-width="1.0"/>
<line x1="407.60" y1="205.26" x2="411.90" y2="205.26" stroke="#222" stroke-width="1.0"/>
<line x1="722.40" y1="205.26" x2="718.10" y2="205.26" stroke="#222" stroke-width="1.0"/>
<line x1="407.60" y1="195.31" x2="409.80" y2="195.31" stroke="#222" stroke-width="1.0"/>
<line x1="722.40" y1="195.31" x2="720.20" y2="195.31" stroke="#222" stroke-width="1.0"/>
<line x1="407.60" y1="189.49" x2="409.80" y2="189.49" stroke="#222" stroke-width="1.0"/>
<line x1="722.40" y1="189.49" x2="720.20" y2="189.49" stroke="#222" stroke-width="1.0"/>
<line x1="407.60" y1="185.36" x2="409.80" y2="185.36" stroke="#222" stroke-width="1.0"/>
<line x1="722.40" y1="185.36" x2="720.20" y2="185.36" stroke="#222" stroke-width="1.0"/>
<line x1="407.60" y1="182.16" x2="409.80" y2="182.16" stroke="#222" stroke-width="1.0"/>
<line x1="722.40" y1="182.16" x2="720.20" y2="182.16" stroke="#222" stroke-width="1.0"/>
<line x1="407.60" y1="179.54" x2="409.80" y2="179.54" stroke="#222" stroke-width="1.0"/>
<line x1="722.40" y1="179.54" x2="720.20" y2="179.54" stroke="#222" stroke-width="1.0"/>
<line x1="407.60" y1="177.33" x2="409.80" y2="177.33" stroke="#222" stroke-width="1.0"/>
<line x1="722.40" y1="177.33" x2="720.20" y2="177.33" stroke="#222" stroke-width="1.0"/>
<line x1="407.60" y1="175.42" x2="409.80" y2="175.42" stroke="#222" stroke-width="1.0"/>
<line x1="722.40" y1="175.42" x2="720.20" y2="175.42" stroke="#222" stroke-width="1.0"/>
<line x1="407.60" y1="173.73" x2="409.80" y2="173.73" stroke="#222" stroke-width="1.0"/>
<line x1="722.40" y1="173.73" x2="720.20" y2="173.73" stroke="#222" stroke-width="1.0"/>
<line x1="407.60" y1="172.21" x2="411.90" y2="172.21" stroke="#222" stroke-width="1.0"/>
<line x1="722.40" y1="172.21" x2="718.10" y2="172.21" stroke="#222" stroke-width="1.0"/>
<line x1="407.60" y1="162.27" x2="409.80" y2="162.27" stroke="#222" stroke-width="1.0"/>
<line x1="722.40" y1="162.27" x2="720.20" y2="162.27" stroke="#222" stroke-width="1.0"/>
<line x1="407.60" y1="156.45" x2="409.80" y2="156.45" stroke="#222" stroke-width="1.0"/>
<line x1="722.40" y1="156.45" x2="720.20" y2="156.45" stroke="#222" stroke-width="1.0"/>
<line x1="407.60" y1="152.32" x2="409.80" y2="152.32" stroke="#222" stroke-width="1.0"/>
<line x1="722.40" y1="152.32" x2="720.20" y2="152.32" stroke="#222" stroke-width="1.0"/>
<line x1="407.60" y1="149.12" x2="409.80" y2="149.12" stroke="#222" stroke-width="1.0"/>
<line x1="722.40" y1="149.12" x2="720.20" y2="149.12" stroke="#222" stroke-width="1.0"/>
<line x1="407.60" y1="146.50" x2="409.80" y2="146.50" stroke="#222" stroke-width="1.0"/>
<line x1="722.40" y1="146.50" x2="720.20" y2="146.50" stroke="#222" stroke-width="1.0"/>
<line x1="407.60" y1="144.29" x2="409.80" y2="144.29" stroke="#222" stroke-width="1.0"/>
<line x1="722.40" y1="144.29" x2="720.20" y2="144.29" stroke="#222" stroke-width="1.0"/>
<line x1="407.60" y1="142.37" x2="409.80" y2="142.37" stroke="#222" stroke-width="1.0"/>
<line x1="722.40" y1="142.37" x2="720.20" y2="142.37" stroke="#222" stroke-width="1.0"/>
<line x1="407.60" y1="140.68" x2="409.80" y2="140.68" stroke="#222" stroke-width="1.0"/>
<line x1="722.40" y1="140.68" x2="720.20" y2="140.68" stroke="#222" stroke-width="1.0"/>
<line x1="407.60" y1="139.17" x2="411.90" y2="139.17" stroke="#222" stroke-width="1.0"/>
<line x1="722.40" y1="139.17" x2="718.10" y2="139.17" stroke="#222" stroke-width="1.0"/>
<line x1="407.60" y1="129.22" x2="409.80" y2="129.22" stroke="#222" stroke-width="1.0"/>
<line x1="722.40" y1="129.22" x2="720.20" y2="129.22" stroke="#222" stroke-width="1.0"/>
<line x1="407.60" y1="123.41" x2="409.80" y2="123.41" stroke="#222" stroke-width="1.0"/>
<line x1="722.40" y1="123.41" x2="720.20" y2="123.41" stroke="#222" stroke-width="1.0"/>
<line x1="407.60" y1="119.28" x2="409.80" y2="119.28" stroke="#222" stroke-width="1.0"/>
<line x1="722.40" y1="119.28" x2="720.20" y2="119.28" stroke="#222" stroke-width="1.0"/>
<line x1="407.60" y1="116.08" x2="409.80" y2="116.08" stroke="#222" stroke-width="1.0"/>
<line x1="722.40" y1="116.08" x2="720.20" y2="116.08" stroke="#222" stroke-width="1.0"/>
<line x1="407.60" y1="113.46" x2="409.80" y2="113.46" stroke="#222" stroke-width="1.0"/>
<line x1="722.40" y1="113.46" x2="720.20" y2="113.46" stroke="#222" stroke-width="1.0"/>
<line x1="407.60" y1="111.25" x2="409.80" y2="111.25" stroke="#222" stroke-width="1.0"/>
<line x1="722.40" y1="111.25" x2="720.20" y2="111.25" stroke="#222" stroke-width="1.0"/>
<line x1="407.60" y1="109.33" x2="409.80" y2="109.33" stroke="#222" stroke-width="1.0"/>
<line x1="722.40" y1="109.33" x2="720.20" y2="109.33" stroke="#222" stroke-width="1.0"/>
<line x1="407.60" y1="107.64" x2="409.80" y2="107.64" stroke="#222" stroke-width="1.0"/>
<line x1="722.40" y1="107.64" x2="720.20" y2="107.64" stroke="#222" stroke-width="1.0"/>
<line x1="407.60" y1="106.13" x2="411.90" y2="106.13" stroke="#222" stroke-width="1.0"/>
<line x1="722.40" y1="106.13" x2="718.10" y2="106.13" stroke="#222" stroke-width="1.0"/>
<line x1="407.60" y1="96.18" x2="409.80" y2="96.18" stroke="#222" stroke-width="1.0"/>
<line x1="722.40" y1="96.18" x2="720.20" y2="96.18" stroke="#222" stroke-width="1.0"/>
<line x1="407.60" y1="90.36" x2="409.80" y2="90.36" stroke="#222" stroke-width="1.0"/>
<line x1="722.40" y1="90.36" x2="720.20" y2="90.36" stroke="#222" stroke-width="1.0"/>
<line x1="407.60" y1="86.23" x2="409.80" y2="86.23" stroke="#222" stroke-width="1.0"/>
<line x1="722.40" y1="86.23" x2="720.20" y2="86.23" stroke="#222" stroke-width="1.0"/>
<line x1="407.60" y1="83.03" x2="409.80" y2="83.03" stroke="#222" stroke-width="1.0"/>
<line x1="722.40" y1="83.03" x2="720.20" y2="83.03" stroke="#222" stroke-width="1.0"/>
<line x1="407.60" y1="80.42" x2="409.80" y2="80.42" stroke="#222" stroke-width="1.0"/>
<line x1="722.40" y1="80.42" x2="720.20" y2="80.42" stroke="#222" stroke-width="1.0"/>
<line x1="407.60" y1="78.20" x2="409.80" y2="78.20" stroke="#222" stroke-width="1.0"/>
<line x1="722.40" y1="78.20" x2="720.20" y2="78.20" stroke="#222" stroke-width="1.0"/>
<line x1="407.60" y1="76.29" x2="409.80" y2="76.29" stroke="#222" stroke-width="1.0"/>
<line x1="722.40" y1="76.29" x2="720.20" y2="76.29" stroke="#222" stroke-width="1.0"/>
<line x1="407.60" y1="74.60" x2="409.80" y2="74.60" stroke="#222" stroke-width="1.0"/>
<line x1="722.40" y1="74.60" x2="720.20" y2="74.60" stroke="#222" stroke-width="1.0"/>
<line x1="407.60" y1="73.09" x2="411.90" y2="73.09" stroke="#222" stroke-width="1.0"/>
<line x1="722.40" y1="73.09" x2="718.10" y2="73.09" stroke="#222" stroke-width="1.0"/>
<line x1="407.60" y1="63.14" x2="409.80" y2="63.14" stroke="#222" stroke-width="1.0"/>
<line x1="722.40" y1="63.14" x2="720.20" y2="63.14" stroke="#222" stroke-width="1.0"/>
<line x1="407.60" y1="57.32" x2="409.80" y2="57.32" stroke="#222" stroke-width="1.0"/>
<line x1="722.40" y1="57.32" x2="720.20" y2="57.32" stroke="#222" stroke-width="1.0"/>
<line x1="407.60" y1="53.19" x2="409.80" y2="53.19" stroke="#222" stroke-width="1.0"/>
<line x1="722.40" y1="53.19" x2="720.20" y2="53.19" stroke="#222" stroke-width="1.0"/>
<line x1="407.60" y1="49.99" x2="409.80" y2="49.99" stroke="#222" stroke-width="1.0"/>
<line x1="722.40" y1="49.99" x2="720.20" y2="49.99" stroke="#222" stroke-width="1.0"/>
<line x1="407.60" y1="47.37" x2="409.80" y2="47.37" stroke="#222" stroke-width="1.0"/>
<line x1="722.40" y1="47.37" x2="720.20" y2="47.37" stroke="#222" stroke-width="1.0"/>
<line x1="407.60" y1="45.16" x2="409.80" y2="45.16" stroke="#222" stroke-width="1.0"/>
<line x1="722.40" y1="45.16" x2="720.20" y2="45.16" stroke="#222" stroke-width="1.0"/>
<line x1="407.60" y1="43.25" x2="409.80" y2="43.25" stroke="#222" stroke-width="1.0"/>
<line x1="722.40" y1="43.25" x2="720.20" y2="43.25" stroke="#222" stroke-width="1.0"/>
<line x1="407.60" y1="41.55" x2="409.80" y2="41.55" stroke="#222" stroke-width="1.0"/>
<line x1="722.40" y1="41.55" x2="720.20" y2="41.55" stroke="#222" stroke-width="1.0"/>
<line x1="407.60" y1="40.04" x2="411.90" y2="40.04" stroke="#222" stroke-width="1.0"/>
<line x1="722.40" y1="40.04" x2="718.10" y2="40.04" stroke="#222" stroke-width="1.0"/>
<line x1="407.60" y1="30.10" x2="409.80" y2="30.10" stroke="#222" stroke-width="1.0"/>
<line x1="722.40" y1="30.10" x2="720.20" y2="30.10" stroke="#222" stroke-width="1.0"/>
<line x1="407.60" y1="24.28" x2="409.80" y2="24.28" stroke="#222" stroke-width="1.0"/>
<line x1="722.40" y1="24.28" x2="720.20" y2="24.28" stroke="#222" stroke-width="1.0"/>
<line x1="407.60" y1="20.15" x2="409.80" y2="20.15" stroke="#222" stroke-width="1.0"/>
<line x1="722.40" y1="20.15" x2="720.20" y2="20.15" stroke="#222" stroke-width="1.0"/>
<line x1="407.60" y1="16.95" x2="409.80" y2="16.95" stroke="#222" stroke-width="1.0"/>
<line x1="722.40" y1="16.95" x2="720.20" y2="16.95" stroke="#222" stroke-width="1.0"/>
<line x1="407.60" y1="14.33" x2="409.80" y2="14.33" stroke="#222" stroke-width="1.0"/>
<line x1="722.40" y1="14.33" x2="720.20" y2="14.33" stroke="#222" stroke-width="1.0"/>
<line x1="407.60" y1="12.12" x2="409.80" y2="12.12" stroke="#222" stroke-width="1.0"/>
<line x1="722.40" y1="12.12" x2="720.20" y2="12.12" stroke="#222" stroke-width="1.0"/>
<line x1="407.60" y1="10.20" x2="409.80" y2="10.20" stroke="#222" stroke-width="1.0"/>
<line x1="722.40" y1="10.20" x2="720.20" y2="10.20" stroke="#222" stroke-width="1.0"/>
<line x1="407.60" y1="8.51" x2="409.80" y2="8.51" stroke="#222" stroke-width="1.0"/>
<line x1="722.40" y1="8.51" x2="720.20" y2="8.51" stroke="#222" stroke-width="1.0"/>
<path d="M763,0L583,0L583,1147Q518,1085 412.5,1023Q307,961 223,930L223,1104Q374,1175 487,1276Q600,1377 647,1466L763,1466Z" transform="translate(384.93,242.50) scale(0.00586,-0.00586)" stroke="#000" stroke-width="59.7"/>
<text x="391.60" y="242.50" font-size="12" text-anchor="start" >0</text>
<path d="M763,0L583,0L583,1147Q518,1085 412.5,1023Q307,961 223,930L223,1104Q374,1175 487,1276Q600,1377 647,1466L763,1466Z" transform="translate(398.27,237.50) scale(0.00415,-0.00415)" stroke="#000" stroke-width="84.3"/>
<path d="M763,0L583,0L583,1147Q518,1085 412.5,1023Q307,961 223,930L223,1104Q374,1175 487,1276Q600,1377 647,1466L763,1466Z" transform="translate(384.93,209.46) scale(0.00586,-0.00586)" stroke="#000" stroke-width="59.7"/>
<text x="391.60" y="209.46" font-size="12" text-anchor="start" >0</text>
<text x="398.27" y="204.46" font-size="8.5" text-anchor="start" >2</text>
<path d="M763,0L583,0L583,1147Q518,1085 412.5,1023Q307,961 223,930L223,1104Q374,1175 487,1276Q600,1377 647,1466L763,1466Z" transform="translate(384.93,176.41) scale(0.00586,-0.00586)" stroke="#000" stroke-width="59.7"/>
<text x="391.60" y="176.41" font-size="12" text-anchor="start" >0</text>
<text x="398.27" y="171.41" font-size="8.5" text-anchor="start" >3</text>
<path d="M763,0L583,0L583,1147Q518,1085 412.5,1023Q307,961 223,930L223,1104Q374,1175 487,1276Q600,1377 647,1466L763,1466Z" transform="translate(384.93,143.37) scale(0.00586,-0.00586)" stroke="#000" stroke-width="59.7"/>
<text x="391.60" y="143.37" font-size="12" text-anchor="start" >0</text>
<text x="398.27" y="138.37" font-size="8.5" text-anchor="start" >4</text>
<path d="M763,0L583,0L583,1147Q518,1085 412.5,1023Q307,961 223,930L223,1104Q374,1175 487,1276Q600,1377 647,1466L763,1466Z" transform="translate(384.93,110.33) scale(0.00586,-0.00586)" stroke="#000" stroke-width="59.7"/>
<text x="391.60" y="110.33" font-size="12" text-anchor="start" >0</text>
<text x="398.27" y="105.33" font-size="8.5" text-anchor="start" >5</text>
<path d="M763,0L583,0L583,1147Q518,1085 412.5,1023Q307,961 223,930L223,1104Q374,1175 487,1276Q600,1377 647,1466L763,1466Z" transform="translate(384.93,77.29) scale(0.00586,-0.00586)" stroke="#000" stroke-width="59.7"/>
<text x="391.60" y="77.29" font-size="12" text-anchor="start" >0</text>
<text x="398.27" y="72.29" font-size="8.5" text-anchor="start" >6</text>
<path d="M763,0L583,0L583,1147Q518,1085 412.5,1023Q307,961 223,930L223,1104Q374,1175 487,1276Q600,1377 647,1466L763,1466Z" transform="translate(384.93,44.24) scale(0.00586,-0.00586)" stroke="#000" stroke-width="59.7"/>
<text x="391.60" y="44.24" font-size="12" text-anchor="start" >0</text>
<text x="398.27" y="39.24" font-size="8.5" text-anchor="start" >7</text>
<path d="M763,0L583,0L583,1147Q518,1085 412.5,1023Q307,961 223,930L223,1104Q374,1175 487,1276Q600,1377 647,1466L763,1466Z" transform="translate(384.93,11.20) scale(0.00586,-0.00586)" stroke="#000" stroke-width="59.7"/>
<text x="391.60" y="11.20" font-size="12" text-anchor="start" >0</text>
<text x="398.27" y="6.20" font-size="8.5" text-anchor="start" >8</text>
<rect x="407.60" y="7.00" width="314.80" height="231.30" fill="none" stroke="#222" stroke-width="1.3" stroke-linejoin="round"/>
<line x1="66.55" y1="515.20" x2="66.55" y2="513.00" stroke="#222" stroke-width="1.0"/>
<line x1="66.55" y1="284.00" x2="66.55" y2="286.20" stroke="#222" stroke-width="1.0"/>
<line x1="80.16" y1="515.20" x2="80.16" y2="513.00" stroke="#222" stroke-width="1.0"/>
<line x1="80.16" y1="284.00" x2="80.16" y2="286.20" stroke="#222" stroke-width="1.0"/>
<line x1="89.81" y1="515.20" x2="89.81" y2="513.00" stroke="#222" stroke-width="1.0"/>
<line x1="89.81" y1="284.00" x2="89.81" y2="286.20" stroke="#222" stroke-width="1.0"/>
<line x1="97.30" y1="515.20" x2="97.30" y2="513.00" stroke="#222" stroke-width="1.0"/>
<line x1="97.30" y1="284.00" x2="97.30" y2="286.20" stroke="#222" stroke-width="1.0"/>
<line x1="103.41" y1="515.20" x2="103.41" y2="513.00" stroke="#222" stroke-width="1.0"/>
<line x1="103.41" y1="284.00" x2="103.41" y2="286.20" stroke="#222" stroke-width="1.0"/>
<line x1="108.58" y1="515.20" x2="108.58" y2="513.00" stroke="#222" stroke-width="1.0"/>
<line x1="108.58" y1="284.00" x2="108.58" y2="286.20" stroke="#222" stroke-width="1.0"/>
<line x1="113.06" y1="515.20" x2="113.06" y2="513.00" stroke="#222" stroke-width="1.0"/>
<line x1="113.06" y1="284.00" x2="113.06" y2="286.20" stroke="#222" stroke-width="1.0"/>
<line x1="117.02" y1="515.20" x2="117.02" y2="513.00" stroke="#222" stroke-width="1.0"/>
<line x1="117.02" y1="284.00" x2="117.02" y2="286.20" stroke="#222" stroke-width="1.0"/>
<line x1="120.55" y1="515.20" x2="120.55" y2="510.90" stroke="#222" stroke-width="1.0"/>
<line x1="120.55" y1="284.00" x2="120.55" y2="288.30" stroke="#222" stroke-width="1.0"/>
<line x1="143.80" y1="515.20" x2="143.80" y2="513.00" stroke="#222" stroke-width="1.0"/>
<line x1="143.80" y1="284.00" x2="143.80" y2="286.20" stroke="#222" stroke-width="1.0"/>
<line x1="157.41" y1="515.20" x2="157.41" y2="513.00" stroke="#222" stroke-width="1.0"/>
<line x1="157.41" y1="284.00" x2="157.41" y2="286.20" stroke="#222" stroke-width="1.0"/>
<line x1="167.06" y1="515.20" x2="167.06" y2="513.00" stroke="#222" stroke-width="1.0"/>
<line x1="167.06" y1="284.00" x2="167.06" y2="286.20" stroke="#222" stroke-width="1.0"/>
<line x1="174.55" y1="515.20" x2="174.55" y2="513.00" stroke="#222" stroke-width="1.0"/>
<line x1="174.55" y1="284.00" x2="174.55" y2="286.20" stroke="#222" stroke-width="1.0"/>
<line x1="180.66" y1="515.20" x2="180.66" y2="513.00" stroke="#222" stroke-width="1.0"/>
<line x1="180.66" y1="284.00" x2="180.66" y2="286.20" stroke="#222" stroke-width="1.0"/>
<line x1="185.83" y1="515.20" x2="185.83" y2="513.00" stroke="#222" stroke-width="1.0"/>
<line x1="185.83" y1="284.00" x2="185.83" y2="286.20" stroke="#222" stroke-width="1.0"/>
<line x1="190.31" y1="515.20" x2="190.31" y2="513.00" stroke="#222" stroke-width="1.0"/>
<line x1="190.31" y1="284.00" x2="190.31" y2="286.20" stroke="#222" stroke-width="1.0"/>
<line x1="194.27" y1="515.20" x2="194.27" y2="513.00" stroke="#222" stroke-width="1.0"/>
<line x1="194.27" y1="284.00" x2="194.27" y2="286.20" stroke="#222" stroke-width="1.0"/>
<line x1="197.80" y1="515.20" x2="197.80" y2="510.90" stroke="#222" stroke-width="1.0"/>
<line x1="197.80" y1="284.00" x2="197.80" y2="288.30" stroke="#222" stroke-width="1.0"/>
<line x1="221.05" y1="515.20" x2="221.05" y2="513.00" stroke="#222" stroke-width="1.0"/>
<line x1="221.05" y1="284.00" x2="221.05" y2="286.20" stroke="#222" stroke-width="1.0"/>
<line x1="234.66" y1="515.20" x2="234.66" y2="513.00" stroke="#222" stroke-width="1.0"/>
<line x1="234.66" y1="284.00" x2="234.66" y2="286.20" stroke="#222" stroke-width="1.0"/>
<line x1="244.31" y1="515.20" x2="244.31" y2="513.00" stroke="#222" stroke-width="1.0"/>
<line x1="244.31" y1="284.00" x2="244.31" y2="286.20" stroke="#222" stroke-width="1.0"/>
<line x1="251.80" y1="515.20" x2="251.80" y2="513.00" stroke="#222" stroke-width="1.0"/>
<line x1="251.80" y1="284.00" x2="251.80" y2="286.20" stroke="#222" stroke-width="1.0"/>
<line x1="257.91" y1="515.20" x2="257.91" y2="513.00" stroke="#222" stroke-width="1.0"/>
<line x1="257.91" y1="284.00" x2="257.91" y2="286.20" stroke="#222" stroke-width="1.0"/>
<line x1="263.08" y1="515.20" x2="263.08" y2="513.00" stroke="#222" stroke-width="1.0"/>
<line x1="263.08" y1="284.00" x2="263.08" y2="286.20" stroke="#222" stroke-width="1.0"/>
<line x1="267.56" y1="515.20" x2="267.56" y2="513.00" stroke="#222" stroke-width="1.0"/>
<line x1="267.56" y1="284.00" x2="267.56" y2="286.20" stroke="#222" stroke-width="1.0"/>
<line x1="271.52" y1="515.20" x2="271.52" y2="513.00" stroke="#222" stroke-width="1.0"/>
<line x1="271.52" y1="284.00" x2="271.52" y2="286.20" stroke="#222" stroke-width="1.0"/>
<line x1="275.05" y1="515.20" x2="275.05" y2="510.90" stroke="#222" stroke-width="1.0"/>
<line x1="275.05" y1="284.00" x2="275.05" y2="288.30" stroke="#222" stroke-width="1.0"/>
<line x1="298.30" y1="515.20" x2="298.30" y2="513.00" stroke="#222" stroke-width="1.0"/>
<line x1="298.30" y1="284.00" x2="298.30" y2="286.20" stroke="#222" stroke-width="1.0"/>
<line x1="311.91" y1="515.20" x2="311.91" y2="513.00" stroke="#222" stroke-width="1.0"/>
<line x1="311.91" y1="284.00" x2="311.91" y2="286.20" stroke="#222" stroke-width="1.0"/>
<line x1="321.56" y1="515.20" x2="321.56" y2="513.00" stroke="#222" stroke-width="1.0"/>
<line x1="321.56" y1="284.00" x2="321.56" y2="286.20" stroke="#222" stroke-width="1.0"/>
<line x1="329.05" y1="515.20" x2="329.05" y2="513.00" stroke="#222" stroke-width="1.0"/>
<line x1="329.05" y1="284.00" x2="329.05" y2="286.20" stroke="#222" stroke-width="1.0"/>
<line x1="335.16" y1="515.20" x2="335.16" y2="513.00" stroke="#222" stroke-width="1.0"/>
<line x1="335.16" y1="284.00" x2="335.16" y2="286.20" stroke="#222" stroke-width="1.0"/>
<line x1="340.33" y1="515.20" x2="340.33" y2="513.00" stroke="#222" stroke-width="1.0"/>
<line x1="340.33" y1="284.00" x2="340.33" y2="286.20" stroke="#222" stroke-width="1.0"/>
<line x1="344.81" y1="515.20" x2="344.81" y2="513.00" stroke="#222" stroke-width="1.0"/>
<line x1="344.81" y1="284.00" x2="344.81" y2="286.20" stroke="#222" stroke-width="1.0"/>
<line x1="348.77" y1="515.20" x2="348.77" y2="513.00" stroke="#222" stroke-width="1.0"/>
<line x1="348.77" y1="284.00" x2="348.77" y2="286.20" stroke="#222" stroke-width="1.0"/>
<line x1="352.30" y1="515.20" x2="352.30" y2="510.90" stroke="#222" stroke-width="1.0"/>
<line x1="352.30" y1="284.00" x2="352.30" y2="288.30" stroke="#222" stroke-width="1.0"/>
<path d="M763,0L583,0L583,1147Q518,1085 412.5,1023Q307,961 223,930L223,1104Q374,1175 487,1276Q600,1377 647,1466L763,1466Z" transform="translate(33.35,531.20) scale(0.00586,-0.00586)" stroke="#000" stroke-width="59.7"/>
<text x="40.02" y="531.20" font-size="12" text-anchor="start" >0</text>
<text x="46.69" y="526.20" font-size="8.5" text-anchor="start" >-4</text>
<path d="M763,0L583,0L583,1147Q518,1085 412.5,1023Q307,961 223,930L223,1104Q374,1175 487,1276Q600,1377 647,1466L763,1466Z" transform="translate(110.60,531.20) scale(0.00586,-0.00586)" stroke="#000" stroke-width="59.7"/>
<text x="117.27" y="531.20" font-size="12" text-anchor="start" >0</text>
<text x="123.94" y="526.20" font-size="8.5" text-anchor="start" >-3</text>
<path d="M763,0L583,0L583,1147Q518,1085 412.5,1023Q307,961 223,930L223,1104Q374,1175 487,1276Q600,1377 647,1466L763,1466Z" transform="translate(187.85,531.20) scale(0.00586,-0.00586)" stroke="#000" stroke-width="59.7"/>
<text x="194.52" y="531.20" font-size="12" text-anchor="start" >0</text>
<text x="201.19" y="526.20" font-size="8.5" text-anchor="start" >-2</text>
<path d="M763,0L583,0L583,1147Q518,1085 412.5,1023Q307,961 223,930L223,1104Q374,1175 487,1276Q600,1377 647,1466L763,1466Z" transform="translate(265.10,531.20) scale(0.00586,-0.00586)" stroke="#000" stroke-width="59.7"/>
<text x="271.77" y="531.20" font-size="12" text-anchor="start" >0</text>
<text x="278.44" y="526.20" font-size="8.5" text-anchor="start" >-</text>
<path d="M763,0L583,0L583,1147Q518,1085 412.5,1023Q307,961 223,930L223,1104Q374,1175 487,1276Q600,1377 647,1466L763,1466Z" transform="translate(281.28,526.20) scale(0.00415,-0.00415)" stroke="#000" stroke-width="84.3"/>
<path d="M763,0L583,0L583,1147Q518,1085 412.5,1023Q307,961 223,930L223,1104Q374,1175 487,1276Q600,1377 647,1466L763,1466Z" transform="translate(343.76,531.20) scale(0.00586,-0.00586)" stroke="#000" stroke-width="59.7"/>
<text x="350.44" y="531.20" font-size="12" text-anchor="start" >0</text>
<text x="357.11" y="526.20" font-size="8.5" text-anchor="start" >0</text>
<line x1="43.50" y1="499.79" x2="47.80" y2="499.79" stroke="#222" stroke-width="1.0"/>
<line x1="358.40" y1="499.79" x2="354.10" y2="499.79" stroke="#222" stroke-width="1.0"/>
<line x1="43.50" y1="484.37" x2="45.70" y2="484.37" stroke="#222" stroke-width="1.0"/>
<line x1="358.40" y1="484.37" x2="356.20" y2="484.37" stroke="#222" stroke-width="1.0"/>
<line x1="43.50" y1="468.96" x2="47.80" y2="468.96" stroke="#222" stroke-width="1.0"/>
<line x1="358.40" y1="468.96" x2="354.10" y2="468.96" stroke="#222" stroke-width="1.0"/>
<line x1="43.50" y1="453.55" x2="45.70" y2="453.55" stroke="#222" stroke-width="1.0"/>
<line x1="358.40" y1="453.55" x2="356.20" y2="453.55" stroke="#222" stroke-width="1.0"/>
<line x1="43.50" y1="438.13" x2="47.80" y2="438.13" stroke="#222" stroke-width="1.0"/>
<line x1="358.40" y1="438.13" x2="354.10" y2="438.13" stroke="#222" stroke-width="1.0"/>
<line x1="43.50" y1="422.72" x2="45.70" y2="422.72" stroke="#222" stroke-width="1.0"/>
<line x1="358.40" y1="422.72" x2="356.20" y2="422.72" stroke="#222" stroke-width="1.0"/>
<line x1="43.50" y1="407.31" x2="47.80" y2="407.31" stroke="#222" stroke-width="1.0"/>
<line x1="358.40" y1="407.31" x2="354.10" y2="407.31" stroke="#222" stroke-width="1.0"/>
<line x1="43.50" y1="391.89" x2="45.70" y2="391.89" stroke="#222" stroke-width="1.0"/>
<line x1="358.40" y1="391.89" x2="356.20" y2="391.89" stroke="#222" stroke-width="1.0"/>
<line x1="43.50" y1="376.48" x2="47.80" y2="376.48" stroke="#222" stroke-width="1.0"/>
<line x1="358.40" y1="376.48" x2="354.10" y2="376.48" stroke="#222" stroke-width="1.0"/>
<line x1="43.50" y1="361.07" x2="45.70" y2="361.07" stroke="#222" stroke-width="1.0"/>
<line x1="358.40" y1="361.07" x2="356.20" y2="361.07" stroke="#222" stroke-width="1.0"/>
<line x1="43.50" y1="345.65" x2="47.80" y2="345.65" stroke="#222" stroke-width="1.0"/>
<line x1="358.40" y1="345.65" x2="354.10" y2="345.65" stroke="#222" stroke-width="1.0"/>
<line x1="43.50" y1="330.24" x2="45.70" y2="330.24" stroke="#222" stroke-width="1.0"/>
<line x1="358.40" y1="330.24" x2="356.20" y2="330.24" stroke="#222" stroke-width="1.0"/>
<line x1="43.50" y1="314.83" x2="47.80" y2="314.83" stroke="#222" stroke-width="1.0"/>
<line x1="358.40" y1="314.83" x2="354.10" y2="314.83" stroke="#222" stroke-width="1.0"/>
<line x1="43.50" y1="299.41" x2="45.70" y2="299.41" stroke="#222" stroke-width="1.0"/>
<line x1="358.40" y1="299.41" x2="356.20" y2="299.41" stroke="#222" stroke-width="1.0"/>
<path d="M763,0L583,0L583,1147Q518,1085 412.5,1023Q307,961 223,930L223,1104Q374,1175 487,1276Q600,1377 647,1466L763,1466Z" transform="translate(24.75,503.19) scale(0.00586,-0.00586)" stroke="#000" stroke-width="59.7"/>
<text x="31.43" y="503.19" font-size="12" text-anchor="start" >0</text>
<text x="24.75" y="472.36" font-size="12" text-anchor="start" >20</text>
<text x="24.75" y="441.53" font-size="12" text-anchor="start" >30</text>
<text x="24.75" y="410.71" font-size="12" text-anchor="start" >40</text>
<text x="24.75" y="379.88" font-size="12" text-anchor="start" >50</text>
<text x="24.75" y="349.05" font-size="12" text-anchor="start" >60</text>
<text x="24.75" y="318.23" font-size="12" text-anchor="start" >70</text>
<text x="24.75" y="287.40" font-size="12" text-anchor="start" >80</text>
<rect x="43.50" y="284.00" width="314.90" height="231.20" fill="none" stroke="#222" stroke-width="1.3" stroke-linejoin="round"/>
<line x1="430.82" y1="515.20" x2="430.82" y2="513.00" stroke="#222" stroke-width="1.0"/>
<line x1="430.82" y1="284.00" x2="430.82" y2="286.20" stroke="#222" stroke-width="1.0"/>
<line x1="444.41" y1="515.20" x2="444.41" y2="513.00" stroke="#222" stroke-width="1.0"/>
<line x1="444.41" y1="284.00" x2="444.41" y2="286.20" stroke="#222" stroke-width="1.0"/>
<line x1="454.05" y1="515.20" x2="454.05" y2="513.00" stroke="#222" stroke-width="1.0"/>
<line x1="454.05" y1="284.00" x2="454.05" y2="286.20" stroke="#222" stroke-width="1.0"/>
<line x1="461.53" y1="515.20" x2="461.53" y2="513.00" stroke="#222" stroke-width="1.0"/>
<line x1="461.53" y1="284.00" x2="461.53" y2="286.20" stroke="#222" stroke-width="1.0"/>
<line x1="467.63" y1="515.20" x2="467.63" y2="513.00" stroke="#222" stroke-width="1.0"/>
<line x1="467.63" y1="284.00" x2="467.63" y2="286.20" stroke="#222" stroke-width="1.0"/>
<line x1="472.80" y1="515.20" x2="472.80" y2="513.00" stroke="#222" stroke-width="1.0"/>
<line x1="472.80" y1="284.00" x2="472.80" y2="286.20" stroke="#222" stroke-width="1.0"/>
<line x1="477.27" y1="515.20" x2="477.27" y2="513.00" stroke="#222" stroke-width="1.0"/>
<line x1="477.27" y1="284.00" x2="477.27" y2="286.20" stroke="#222" stroke-width="1.0"/>
<line x1="481.22" y1="515.20" x2="481.22" y2="513.00" stroke="#222" stroke-width="1.0"/>
<line x1="481.22" y1="284.00" x2="481.22" y2="286.20" stroke="#222" stroke-width="1.0"/>
<line x1="484.75" y1="515.20" x2="484.75" y2="510.90" stroke="#222" stroke-width="1.0"/>
<line x1="484.75" y1="284.00" x2="484.75" y2="288.30" stroke="#222" stroke-width="1.0"/>
<line x1="507.97" y1="515.20" x2="507.97" y2="513.00" stroke="#222" stroke-width="1.0"/>
<line x1="507.97" y1="284.00" x2="507.97" y2="286.20" stroke="#222" stroke-width="1.0"/>
<line x1="521.56" y1="515.20" x2="521.56" y2="513.00" stroke="#222" stroke-width="1.0"/>
<line x1="521.56" y1="284.00" x2="521.56" y2="286.20" stroke="#222" stroke-width="1.0"/>
<line x1="531.20" y1="515.20" x2="531.20" y2="513.00" stroke="#222" stroke-width="1.0"/>
<line x1="531.20" y1="284.00" x2="531.20" y2="286.20" stroke="#222" stroke-width="1.0"/>
<line x1="538.68" y1="515.20" x2="538.68" y2="513.00" stroke="#222" stroke-width="1.0"/>
<line x1="538.68" y1="284.00" x2="538.68" y2="286.20" stroke="#222" stroke-width="1.0"/>
<line x1="544.78" y1="515.20" x2="544.78" y2="513.00" stroke="#222" stroke-width="1.0"/>
<line x1="544.78" y1="284.00" x2="544.78" y2="286.20" stroke="#222" stroke-width="1.0"/>
<line x1="549.95" y1="515.20" x2="549.95" y2="513.00" stroke="#222" stroke-width="1.0"/>
<line x1="549.95" y1="284.00" x2="549.95" y2="286.20" stroke="#222" stroke-width="1.0"/>
<line x1="554.42" y1="515.20" x2="554.42" y2="513.00" stroke="#222" stroke-width="1.0"/>
<line x1="554.42" y1="284.00" x2="554.42" y2="286.20" stroke="#222" stroke-width="1.0"/>
<line x1="558.37" y1="515.20" x2="558.37" y2="513.00" stroke="#222" stroke-width="1.0"/>
<line x1="558.37" y1="284.00" x2="558.37" y2="286.20" stroke="#222" stroke-width="1.0"/>
<line x1="561.90" y1="515.20" x2="561.90" y2="510.90" stroke="#222" stroke-width="1.0"/>
<line x1="561.90" y1="284.00" x2="561.90" y2="288.30" stroke="#222" stroke-width="1.0"/>
<line x1="585.12" y1="515.20" x2="585.12" y2="513.00" stroke="#222" stroke-width="1.0"/>
<line x1="585.12" y1="284.00" x2="585.12" y2="286.20" stroke="#222" stroke-width="1.0"/>
<line x1="598.71" y1="515.20" x2="598.71" y2="513.00" stroke="#222" stroke-width="1.0"/>
<line x1="598.71" y1="284.00" x2="598.71" y2="286.20" stroke="#222" stroke-width="1.0"/>
<line x1="608.35" y1="515.20" x2="608.35" y2="513.00" stroke="#222" stroke-width="1.0"/>
<line x1="608.35" y1="284.00" x2="608.35" y2="286.20" stroke="#222" stroke-width="1.0"/>
<line x1="615.83" y1="515.20" x2="615.83" y2="513.00" stroke="#222" stroke-width="1.0"/>
<line x1="615.83" y1="284.00" x2="615.83" y2="286.20" stroke="#222" stroke-width="1.0"/>
<line x1="621.93" y1="515.20" x2="621.93" y2="513.00" stroke="#222" stroke-width="1.0"/>
<line x1="621.93" y1="284.00" x2="621.93" y2="286.20" stroke="#222" stroke-width="1.0"/>
<line x1="627.10" y1="515.20" x2="627.10" y2="513.00" stroke="#222" stroke-width="1.0"/>
<line x1="627.10" y1="284.00" x2="627.10" y2="286.20" stroke="#222" stroke-width="1.0"/>
<line x1="631.57" y1="515.20" x2="631.57" y2="513.00" stroke="#222" stroke-width="1.0"/>
<line x1="631.57" y1="284.00" x2="631.57" y2="286.20" stroke="#222" stroke-width="1.0"/>
<line x1="635.52" y1="515.20" x2="635.52" y2="513.00" stroke="#222" stroke-width="1.0"/>
<line x1="635.52" y1="284.00" x2="635.52" y2="286.20" stroke="#222" stroke-width="1.0"/>
<line x1="639.05" y1="515.20" x2="639.05" y2="510.90" stroke="#222" stroke-width="1.0"/>
<line x1="639.05" y1="284.00" x2="639.05" y2="288.30" stroke="#222" stroke-width="1.0"/>
<line x1="662.27" y1="515.20" x2="662.27" y2="513.00" stroke="#222" stroke-width="1.0"/>
<line x1="662.27" y1="284.00" x2="662.27" y2="286.20" stroke="#222" stroke-width="1.0"/>
<line x1="675.86" y1="515.20" x2="675.86" y2="513.00" stroke="#222" stroke-width="1.0"/>
<line x1="675.86" y1="284.00" x2="675.86" y2="286.20" stroke="#222" stroke-width="1.0"/>
<line x1="685.50" y1="515.20" x2="685.50" y2="513.00" stroke="#222" stroke-width="1.0"/>
<line x1="685.50" y1="284.00" x2="685.50" y2="286.20" stroke="#222" stroke-width="1.0"/>
<line x1="692.98" y1="515.20" x2="692.98" y2="513.00" stroke="#222" stroke-width="1.0"/>
<line x1="692.98" y1="284.00" x2="692.98" y2="286.20" stroke="#222" stroke-width="1.0"/>
<line x1="699.08" y1="515.20" x2="699.08" y2="513.00" stroke="#222" stroke-width="1.0"/>
<line x1="699.08" y1="284.00" x2="699.08" y2="286.20" stroke="#222" stroke-width="1.0"/>
<line x1="704.25" y1="515.20" x2="704.25" y2="513.00" stroke="#222" stroke-width="1.0"/>
<line x1="704.25" y1="284.00" x2="704.25" y2="286.20" stroke="#222" stroke-width="1.0"/>
<line x1="708.72" y1="515.20" x2="708.72" y2="513.00" stroke="#222" stroke-width="1.0"/>
<line x1="708.72" y1="284.00" x2="708.72" y2="286.20" stroke="#222" stroke-width="1.0"/>
<line x1="712.67" y1="515.20" x2="712.67" y2="513.00" stroke="#222" stroke-width="1.0"/>
<line x1="712.67" y1="284.00" x2="712.67" y2="286.20" stroke="#222" stroke-width="1.0"/>
<line x1="716.20" y1="515.20" x2="716.20" y2="510.90" stroke="#222" stroke-width="1.0"/>
<line x1="716.20" y1="284.00" x2="716.20" y2="288.30" stroke="#222" stroke-width="1.0"/>
<path d="M763,0L583,0L583,1147Q518,1085 412.5,1023Q307,961 223,930L223,1104Q374,1175 487,1276Q600,1377 647,1466L763,1466Z" transform="translate(397.65,531.20) scale(0.00586,-0.00586)" stroke="#000" stroke-width="59.7"/>
<text x="404.32" y="531.20" font-size="12" text-anchor="start" >0</text>
<text x="410.99" y="526.20" font-size="8.5" text-anchor="start" >-4</text>
<path d="M763,0L583,0L583,1147Q518,1085 412.5,1023Q307,961 223,930L223,1104Q374,1175 487,1276Q600,1377 647,1466L763,1466Z" transform="translate(474.80,531.20) scale(0.00586,-0.00586)" stroke="#000" stroke-width="59.7"/>
<text x="481.47" y="531.20" font-size="12" text-anchor="start" >0</text>
<text x="488.14" y="526.20" font-size="8.5" text-anchor="start" >-3</text>
<path d="M763,0L583,0L583,1147Q518,1085 412.5,1023Q307,961 223,930L223,1104Q374,1175 487,1276Q600,1377 647,1466L763,1466Z" transform="translate(551.95,531.20) scale(0.00586,-0.00586)" stroke="#000" stroke-width="59.7"/>
<text x="558.62" y="531.20" font-size="12" text-anchor="start" >0</text>
<text x="565.29" y="526.20" font-size="8.5" text-anchor="start" >-2</text>
<path d="M763,0L583,0L583,1147Q518,1085 412.5,1023Q307,961 223,930L223,1104Q374,1175 487,1276Q600,1377 647,1466L763,1466Z" transform="translate(629.10,531.20) scale(0.00586,-0.00586)" stroke="#000" stroke-width="59.7"/>
<text x="635.77" y="531.20" font-size="12" text-anchor="start" >0</text>
<text x="642.44" y="526.20" font-size="8.5" text-anchor="start" >-</text>
<path d="M763,0L583,0L583,1147Q518,1085 412.5,1023Q307,961 223,930L223,1104Q374,1175 487,1276Q600,1377 647,1466L763,1466Z" transform="translate(645.28,526.20) scale(0.00415,-0.00415)" stroke="#000" stroke-width="84.3"/>
<path d="M763,0L583,0L583,1147Q518,1085 412.5,1023Q307,961 223,930L223,1104Q374,1175 487,1276Q600,1377 647,1466L763,1466Z" transform="translate(707.66,531.20) scale(0.00586,-0.00586)" stroke="#000" stroke-width="59.7"/>
<text x="714.34" y="531.20" font-size="12" text-anchor="start" >0</text>
<text x="721.01" y="526.20" font-size="8.5" text-anchor="start" >0</text>
<line x1="407.60" y1="511.36" x2="409.80" y2="511.36" stroke="#222" stroke-width="1.0"/>
<line x1="722.40" y1="511.36" x2="720.20" y2="511.36" stroke="#222" stroke-width="1.0"/>
<line x1="407.60" y1="508.45" x2="409.80" y2="508.45" stroke="#222" stroke-width="1.0"/>
<line x1="722.40" y1="508.45" x2="720.20" y2="508.45" stroke="#222" stroke-width="1.0"/>
<line x1="407.60" y1="505.92" x2="409.80" y2="505.92" stroke="#222" stroke-width="1.0"/>
<line x1="722.40" y1="505.92" x2="720.20" y2="505.92" stroke="#222" stroke-width="1.0"/>
<line x1="407.60" y1="503.69" x2="409.80" y2="503.69" stroke="#222" stroke-width="1.0"/>
<line x1="722.40" y1="503.69" x2="720.20" y2="503.69" stroke="#222" stroke-width="1.0"/>
<line x1="407.60" y1="501.70" x2="411.90" y2="501.70" stroke="#222" stroke-width="1.0"/>
<line x1="722.40" y1="501.70" x2="718.10" y2="501.70" stroke="#222" stroke-width="1.0"/>
<line x1="407.60" y1="488.60" x2="409.80" y2="488.60" stroke="#222" stroke-width="1.0"/>
<line x1="722.40" y1="488.60" x2="720.20" y2="488.60" stroke="#222" stroke-width="1.0"/>
<line x1="407.60" y1="480.93" x2="409.80" y2="480.93" stroke="#222" stroke-width="1.0"/>
<line x1="722.40" y1="480.93" x2="720.20" y2="480.93" stroke="#222" stroke-width="1.0"/>
<line x1="407.60" y1="475.49" x2="409.80" y2="475.49" stroke="#222" stroke-width="1.0"/>
<line x1="722.40" y1="475.49" x2="720.20" y2="475.49" stroke="#222" stroke-width="1.0"/>
<line x1="407.60" y1="471.27" x2="409.80" y2="471.27" stroke="#222" stroke-width="1.0"/>
<line x1="722.40" y1="471.27" x2="720.20" y2="471.27" stroke="#222" stroke-width="1.0"/>
<line x1="407.60" y1="467.82" x2="409.80" y2="467.82" stroke="#222" stroke-width="1.0"/>
<line x1="722.40" y1="467.82" x2="720.20" y2="467.82" stroke="#222" stroke-width="1.0"/>
<line x1="407.60" y1="464.91" x2="409.80" y2="464.91" stroke="#222" stroke-width="1.0"/>
<line x1="722.40" y1="464.91" x2="720.20" y2="464.91" stroke="#222" stroke-width="1.0"/>
<line x1="407.60" y1="462.38" x2="409.80" y2="462.38" stroke="#222" stroke-width="1.0"/>
<line x1="722.40" y1="462.38" x2="720.20" y2="462.38" stroke="#222" stroke-width="1.0"/>
<line x1="407.60" y1="460.15" x2="409.80" y2="460.15" stroke="#222" stroke-width="1.0"/>
<line x1="722.40" y1="460.15" x2="720.20" y2="460.15" stroke="#222" stroke-width="1.0"/>
<line x1="407.60" y1="458.16" x2="411.90" y2="458.16" stroke="#222" stroke-width="1.0"/>
<line x1="722.40" y1="458.16" x2="718.10" y2="458.16" stroke="#222" stroke-width="1.0"/>
<line x1="407.60" y1="445.05" x2="409.80" y2="445.05" stroke="#222" stroke-width="1.0"/>
<line x1="722.40" y1="445.05" x2="720.20" y2="445.05" stroke="#222" stroke-width="1.0"/>
<line x1="407.60" y1="437.39" x2="409.80" y2="437.39" stroke="#222" stroke-width="1.0"/>
<line x1="722.40" y1="437.39" x2="720.20" y2="437.39" stroke="#222" stroke-width="1.0"/>
<line x1="407.60" y1="431.95" x2="409.80" y2="431.95" stroke="#222" stroke-width="1.0"/>
<line x1="722.40" y1="431.95" x2="720.20" y2="431.95" stroke="#222" stroke-width="1.0"/>
<line x1="407.60" y1="427.73" x2="409.80" y2="427.73" stroke="#222" stroke-width="1.0"/>
<line x1="722.40" y1="427.73" x2="720.20" y2="427.73" stroke="#222" stroke-width="1.0"/>
<line x1="407.60" y1="424.28" x2="409.80" y2="424.28" stroke="#222" stroke-width="1.0"/>
<line x1="722.40" y1="424.28" x2="720.20" y2="424.28" stroke="#222" stroke-width="1.0"/>
<line x1="407.60" y1="421.37" x2="409.80" y2="421.37" stroke="#222" stroke-width="1.0"/>
<line x1="722.40" y1="421.37" x2="720.20" y2="421.37" stroke="#222" stroke-width="1.0"/>
<line x1="407.60" y1="418.84" x2="409.80" y2="418.84" stroke="#222" stroke-width="1.0"/>
<line x1="722.40" y1="418.84" x2="720.20" y2="418.84" stroke="#222" stroke-width="1.0"/>
<line x1="407.60" y1="416.61" x2="409.80" y2="416.61" stroke="#222" stroke-width="1.0"/>
<line x1="722.40" y1="416.61" x2="720.20" y2="416.61" stroke="#222" stroke-width="1.0"/>
<line x1="407.60" y1="414.62" x2="411.90" y2="414.62" stroke="#222" stroke-width="1.0"/>
<line x1="722.40" y1="414.62" x2="718.10" y2="414.62" stroke="#222" stroke-width="1.0"/>
<line x1="407.60" y1="401.51" x2="409.80" y2="401.51" stroke="#222" stroke-width="1.0"/>
<line x1="722.40" y1="401.51" x2="720.20" y2="401.51" stroke="#222" stroke-width="1.0"/>
<line x1="407.60" y1="393.85" x2="409.80" y2="393.85" stroke="#222" stroke-width="1.0"/>
<line x1="722.40" y1="393.85" x2="720.20" y2="393.85" stroke="#222" stroke-width="1.0"/>
<line x1="407.60" y1="388.41" x2="409.80" y2="388.41" stroke="#222" stroke-width="1.0"/>
<line x1="722.40" y1="388.41" x2="720.20" y2="388.41" stroke="#222" stroke-width="1.0"/>
<line x1="407.60" y1="384.19" x2="409.80" y2="384.19" stroke="#222" stroke-width="1.0"/>
<line x1="722.40" y1="384.19" x2="720.20" y2="384.19" stroke="#222" stroke-width="1.0"/>
<line x1="407.60" y1="380.74" x2="409.80" y2="380.74" stroke="#222" stroke-width="1.0"/>
<line x1="722.40" y1="380.74" x2="720.20" y2="380.74" stroke="#222" stroke-width="1.0"/>
<line x1="407.60" y1="377.83" x2="409.80" y2="377.83" stroke="#222" stroke-width="1.0"/>
<line x1="722.40" y1="377.83" x2="720.20" y2="377.83" stroke="#222" stroke-width="1.0"/>
<line x1="407.60" y1="375.30" x2="409.80" y2="375.30" stroke="#222" stroke-width="1.0"/>
<line x1="722.40" y1="375.30" x2="720.20" y2="375.30" stroke="#222" stroke-width="1.0"/>
<line x1="407.60" y1="373.07" x2="409.80" y2="373.07" stroke="#222" stroke-width="1.0"/>
<line x1="722.40" y1="373.07" x2="720.20" y2="373.07" stroke="#222" stroke-width="1.0"/>
<line x1="407.60" y1="371.08" x2="411.90" y2="371.08" stroke="#222" stroke-width="1.0"/>
<line x1="722.40" y1="371.08" x2="718.10" y2="371.08" stroke="#222" stroke-width="1.0"/>
<line x1="407.60" y1="357.97" x2="409.80" y2="357.97" stroke="#222" stroke-width="1.0"/>
<line x1="722.40" y1="357.97" x2="720.20" y2="357.97" stroke="#222" stroke-width="1.0"/>
<line x1="407.60" y1="350.31" x2="409.80" y2="350.31" stroke="#222" stroke-width="1.0"/>
<line x1="722.40" y1="350.31" x2="720.20" y2="350.31" stroke="#222" stroke-width="1.0"/>
<line x1="407.60" y1="344.87" x2="409.80" y2="344.87" stroke="#222" stroke-width="1.0"/>
<line x1="722.40" y1="344.87" x2="720.20" y2="344.87" stroke="#222" stroke-width="1.0"/>
<line x1="407.60" y1="340.65" x2="409.80" y2="340.65" stroke="#222" stroke-width="1.0"/>
<line x1="722.40" y1="340.65" x2="720.20" y2="340.65" stroke="#222" stroke-width="1.0"/>
<line x1="407.60" y1="337.20" x2="409.80" y2="337.20" stroke="#222" stroke-width="1.0"/>
<line x1="722.40" y1="337.20" x2="720.20" y2="337.20" stroke="#222" stroke-width="1.0"/>
<line x1="407.60" y1="334.28" x2="409.80" y2="334.28" stroke="#222" stroke-width="1.0"/>
<line x1="722.40" y1="334.28" x2="720.20" y2="334.28" stroke="#222" stroke-width="1.0"/>
<line x1="407.60" y1="331.76" x2="409.80" y2="331.76" stroke="#222" stroke-width="1.0"/>
<line x1="722.40" y1="331.76" x2="720.20" y2="331.76" stroke="#222" stroke-width="1.0"/>
<line x1="407.60" y1="329.53" x2="409.80" y2="329.53" stroke="#222" stroke-width="1.0"/>
<line x1="722.40" y1="329.53" x2="720.20" y2="329.53" stroke="#222" stroke-width="1.0"/>
<line x1="407.60" y1="327.54" x2="411.90" y2="327.54" stroke="#222" stroke-width="1.0"/>
<line x1="722.40" y1="327.54" x2="718.10" y2="327.54" stroke="#222" stroke-width="1.0"/>
<line x1="407.60" y1="314.43" x2="409.80" y2="314.43" stroke="#222" stroke-width="1.0"/>
<line x1="722.40" y1="314.43" x2="720.20" y2="314.43" stroke="#222" stroke-width="1.0"/>
<line x1="407.60" y1="306.77" x2="409.80" y2="306.77" stroke="#222" stroke-width="1.0"/>
<line x1="722.40" y1="306.77" x2="720.20" y2="306.77" stroke="#222" stroke-width="1.0"/>
<line x1="407.60" y1="301.33" x2="409.80" y2="301.33" stroke="#222" stroke-width="1.0"/>
<line x1="722.40" y1="301.33" x2="720.20" y2="301.33" stroke="#222" stroke-width="1.0"/>
<line x1="407.60" y1="297.11" x2="409.80" y2="297.11" stroke="#222" stroke-width="1.0"/>
<line x1="722.40" y1="297.11" x2="720.20" y2="297.11" stroke="#222" stroke-width="1.0"/>
<line x1="407.60" y1="293.66" x2="409.80" y2="293.66" stroke="#222" stroke-width="1.0"/>
<line x1="722.40" y1="293.66" x2="720.20" y2="293.66" stroke="#222" stroke-width="1.0"/>
<line x1="407.60" y1="290.74" x2="409.80" y2="290.74" stroke="#222" stroke-width="1.0"/>
<line x1="722.40" y1="290.74" x2="720.20" y2="290.74" stroke="#222" stroke-width="1.0"/>
<line x1="407.60" y1="288.22" x2="409.80" y2="288.22" stroke="#222" stroke-width="1.0"/>
<line x1="722.40" y1="288.22" x2="720.20" y2="288.22" stroke="#222" stroke-width="1.0"/>
<line x1="407.60" y1="285.99" x2="409.80" y2="285.99" stroke="#222" stroke-width="1.0"/>
<line x1="722.40" y1="285.99" x2="720.20" y2="285.99" stroke="#222" stroke-width="1.0"/>
<path d="M763,0L583,0L583,1147Q518,1085 412.5,1023Q307,961 223,930L223,1104Q374,1175 487,1276Q600,1377 647,1466L763,1466Z" transform="translate(382.09,505.90) scale(0.00586,-0.00586)" stroke="#000" stroke-width="59.7"/>
<text x="388.77" y="505.90" font-size="12" text-anchor="start" >0</text>
<text x="395.44" y="500.90" font-size="8.5" text-anchor="start" >-</text>
<path d="M763,0L583,0L583,1147Q518,1085 412.5,1023Q307,961 223,930L223,1104Q374,1175 487,1276Q600,1377 647,1466L763,1466Z" transform="translate(398.27,500.90) scale(0.00415,-0.00415)" stroke="#000" stroke-width="84.3"/>
<path d="M763,0L583,0L583,1147Q518,1085 412.5,1023Q307,961 223,930L223,1104Q374,1175 487,1276Q600,1377 647,1466L763,1466Z" transform="translate(384.93,462.36) scale(0.00586,-0.00586)" stroke="#000" stroke-width="59.7"/>
<text x="391.60" y="462.36" font-size="12" text-anchor="start" >0</text>
<text x="398.27" y="457.36" font-size="8.5" text-anchor="start" >0</text>
<path d="M763,0L583,0L583,1147Q518,1085 412.5,1023Q307,961 223,930L223,1104Q374,1175 487,1276Q600,1377 647,1466L763,1466Z" transform="translate(384.93,418.82) scale(0.00586,-0.00586)" stroke="#000" stroke-width="59.7"/>
<text x="391.60" y="418.82" font-size="12" text-anchor="start" >0</text>
<path d="M763,0L583,0L583,1147Q518,1085 412.5,1023Q307,961 223,930L223,1104Q374,1175 487,1276Q600,1377 647,1466L763,1466Z" transform="translate(398.27,413.82) scale(0.00415,-0.00415)" stroke="#000" stroke-width="84.3"/>
<path d="M763,0L583,0L583,1147Q518,1085 412.5,1023Q307,961 223,930L223,1104Q374,1175 487,1276Q600,1377 647,1466L763,1466Z" transform="translate(384.93,375.28) scale(0.00586,-0.00586)" stroke="#000" stroke-width="59.7"/>
<text x="391.60" y="375.28" font-size="12" text-anchor="start" >0</text>
<text x="398.27" y="370.28" font-size="8.5" text-anchor="start" >2</text>
<path d="M763,0L583,0L583,1147Q518,1085 412.5,1023Q307,961 223,930L223,1104Q374,1175 487,1276Q600,1377 647,1466L763,1466Z" transform="translate(384.93,331.74) scale(0.00586,-0.00586)" stroke="#000" stroke-width="59.7"/>
<text x="391.60" y="331.74" font-size="12" text-anchor="start" >0</text>
<text x="398.27" y="326.74" font-size="8.5" text-anchor="start" >3</text>
<path d="M763,0L583,0L583,1147Q518,1085 412.5,1023Q307,961 223,930L223,1104Q374,1175 487,1276Q600,1377 647,1466L763,1466Z" transform="translate(384.93,288.20) scale(0.00586,-0.00586)" stroke="#000" stroke-width="59.7"/>
<text x="391.60" y="288.20" font-size="12" text-anchor="start" >0</text>
<text x="398.27" y="283.20" font-size="8.5" text-anchor="start" >4</text>
<rect x="407.60" y="284.00" width="314.80" height="231.20" fill="none" stroke="#222" stroke-width="1.3" stroke-linejoin="round"/>
<text x="0" y="0" font-size="15.5" text-anchor="middle" transform="translate(11.60,123.60) rotate(-90)">Altitude (km)</text>
<text x="0" y="0" font-size="15.5" text-anchor="middle" transform="translate(377.20,123.00) rotate(-90)">Energy (kJ)</text>
<text x="0" y="0" font-size="15.5" text-anchor="middle" transform="translate(18.30,401.20) rotate(-90)">Velocity (km/s)</text>
<text x="0" y="0" font-size="15.5" text-anchor="middle" transform="translate(374.80,400.70) rotate(-90)">Mass (g)</text>
<text x="189.40" y="275.70" font-size="16">Kn<tspan font-size="10.5" dy="3.8">r</tspan></text>
<text x="553.40" y="275.70" font-size="16">Kn<tspan font-size="10.5" dy="3.8">r</tspan></text>
<text x="189.40" y="553.30" font-size="16">Kn<tspan font-size="10.5" dy="3.8">r</tspan></text>
<text x="553.40" y="553.30" font-size="16">Kn<tspan font-size="10.5" dy="3.8">r</tspan></text>
<text x="49.60" y="36.80" font-size="25" text-anchor="start" >a</text>
<text x="415.00" y="35.90" font-size="25" text-anchor="start" >b</text>
<text x="51.40" y="313.90" font-size="25" text-anchor="start" >c</text>
<text x="417.00" y="314.60" font-size="25" text-anchor="start" >d</text>
<use href="#mS" x="186" y="84.7"/>
<use href="#mS" x="186" y="89.7"/>
<use href="#mS" x="200.9" y="90.5"/>
<use href="#mS" x="187.5" y="103.9"/>
<use href="#mS" x="167" y="116.1"/>
<use href="#mS" x="197.6" y="117.4"/>
<use href="#mS" x="213.3" y="112.4"/>
<use href="#mS" x="238.9" y="100"/>
<use href="#mS" x="250.8" y="35.5"/>
<use href="#mS" x="293" y="35.7"/>
<use href="#mS" x="321.1" y="30.8"/>
<use href="#mS" x="285.5" y="57.7"/>
<use href="#mS" x="301.5" y="58"/>
<use href="#mS" x="300.8" y="63"/>
<use href="#mS" x="284.4" y="80"/>
<use href="#mC" x="120.3" y="136.1"/>
<use href="#mC" x="120.3" y="167.2"/>
<use href="#mC" x="143.8" y="159.3"/>
<use href="#mC" x="120.5" y="190.7"/>
<use href="#mC" x="206.7" y="103.9"/>
<use href="#mC" x="212.1" y="117.4"/>
<use href="#mC" x="225.7" y="112.4"/>
<use href="#mC" x="231.4" y="111.6"/>
<use href="#mC" x="219.7" y="84.7"/>
<use href="#mC" x="229.7" y="89.8"/>
<use href="#mC" x="251.7" y="80.7"/>
<use href="#mC" x="248" y="99.6"/>
<use href="#mC" x="280.3" y="35.3"/>
<use href="#mC" x="312" y="36.1"/>
<use href="#mC" x="334.9" y="31"/>
<use href="#mC" x="317" y="57.3"/>
<use href="#mC" x="315.5" y="63.5"/>
<use href="#mC" x="327.4" y="57.8"/>
<use href="#mC" x="329.9" y="64"/>
<use href="#mC" x="291.8" y="80"/>
<use href="#mU" x="144" y="135.5"/>
<use href="#mU" x="120.3" y="165.8"/>
<use href="#mU" x="143.8" y="157.8"/>
<use href="#mU" x="120.5" y="189.4"/>
<use href="#mU" x="213.8" y="103.5"/>
<use href="#mU" x="200.1" y="112.8"/>
<use href="#mU" x="205.5" y="117.4"/>
<use href="#mU" x="219.4" y="111.6"/>
<use href="#mU" x="230" y="84.3"/>
<use href="#mU" x="239" y="88.4"/>
<use href="#mU" x="253.2" y="99.1"/>
<use href="#mU" x="299.5" y="34.9"/>
<use href="#mU" x="322.3" y="35.3"/>
<use href="#mU" x="347.3" y="30.3"/>
<use href="#mU" x="311.8" y="56.8"/>
<use href="#mU" x="315.3" y="62.8"/>
<use href="#mU" x="325.4" y="57.3"/>
<use href="#mU" x="332.3" y="63.3"/>
<use href="#mU" x="287.9" y="79.1"/>
<use href="#mD" x="133.2" y="136.7"/>
<use href="#mD" x="81.7" y="160.4"/>
<use href="#mD" x="92.9" y="159.3"/>
<use href="#mD" x="126.8" y="167.3"/>
<use href="#mD" x="96.3" y="190.6"/>
<use href="#mD" x="97.3" y="195.6"/>
<use href="#mD" x="191" y="85.5"/>
<use href="#mD" x="197.6" y="90.5"/>
<use href="#mD" x="210" y="80.5"/>
<use href="#mD" x="162.4" y="99.8"/>
<use href="#mD" x="177.3" y="104.4"/>
<use href="#mD" x="172.8" y="112.6"/>
<use href="#mD" x="178.2" y="117.8"/>
<use href="#mD" x="202.5" y="113.6"/>
<use href="#mD" x="225.2" y="116.8"/>
<use href="#mD" x="219.4" y="90"/>
<use href="#mD" x="254" y="81"/>
<use href="#mD" x="236.4" y="64.4"/>
<use href="#mD" x="252.7" y="58.6"/>
<use href="#mD" x="265.7" y="59.2"/>
<use href="#mD" x="257" y="31.2"/>
<use href="#mD" x="253.2" y="37"/>
<use href="#mG" x="136.9" y="136.1"/>
<use href="#mG" x="85.1" y="160"/>
<use href="#mG" x="96.2" y="158.8"/>
<use href="#mG" x="130" y="166.7"/>
<use href="#mG" x="98.4" y="190.3"/>
<use href="#mG" x="99.9" y="196.3"/>
<use href="#mG" x="197.1" y="85"/>
<use href="#mG" x="204.9" y="89.5"/>
<use href="#mG" x="216.6" y="79.5"/>
<use href="#mG" x="168.5" y="99.4"/>
<use href="#mG" x="184" y="104"/>
<use href="#mG" x="178.6" y="112.4"/>
<use href="#mG" x="183.6" y="117.4"/>
<use href="#mG" x="207.9" y="113.2"/>
<use href="#mG" x="230.5" y="116.1"/>
<use href="#mG" x="225.3" y="89.3"/>
<use href="#mG" x="260.2" y="80.2"/>
<use href="#mG" x="244" y="63.8"/>
<use href="#mG" x="260.3" y="57.7"/>
<use href="#mG" x="271.9" y="58.1"/>
<use href="#mG" x="265.2" y="30.3"/>
<use href="#mG" x="261.7" y="35.7"/>
<use href="#mG" x="270.6" y="35.3"/>
<use href="#mS" x="484.3" y="78.1"/>
<use href="#mS" x="531.1" y="95.4"/>
<use href="#mS" x="549.7" y="74.4"/>
<use href="#mS" x="565" y="90.1"/>
<use href="#mS" x="579.4" y="93.6"/>
<use href="#mS" x="614.8" y="35.5"/>
<use href="#mS" x="657.1" y="103.5"/>
<use href="#mS" x="649.4" y="126.6"/>
<use href="#mS" x="685" y="126.4"/>
<use href="#mS" x="507.9" y="144.3"/>
<use href="#mS" x="561.6" y="146.2"/>
<use href="#mS" x="578.6" y="158.8"/>
<use href="#mS" x="581.1" y="169.5"/>
<use href="#mS" x="550.6" y="121.1"/>
<use href="#mS" x="665.4" y="147.9"/>
<use href="#mS" x="603" y="172.4"/>
<use href="#mS" x="664.7" y="171.6"/>
<use href="#mS" x="648.9" y="191.8"/>
<use href="#mS" x="679.3" y="181.9"/>
<use href="#mC" x="484.3" y="97.9"/>
<use href="#mC" x="484.3" y="111.3"/>
<use href="#mC" x="644.1" y="73.4"/>
<use href="#mC" x="676" y="127.7"/>
<use href="#mC" x="507.9" y="155.5"/>
<use href="#mC" x="484.3" y="159.2"/>
<use href="#mC" x="571.4" y="144.8"/>
<use href="#mC" x="575.5" y="162.8"/>
<use href="#mC" x="589.7" y="171.1"/>
<use href="#mC" x="584.9" y="122.1"/>
<use href="#mC" x="593.5" y="126.1"/>
<use href="#mC" x="615.9" y="141.6"/>
<use href="#mC" x="612.1" y="184.9"/>
<use href="#mC" x="698.9" y="144.8"/>
<use href="#mC" x="680.8" y="167"/>
<use href="#mC" x="690.4" y="180.4"/>
<use href="#mC" x="679.5" y="192.3"/>
<use href="#mC" x="655.3" y="200.7"/>
<use href="#mC" x="693.8" y="201.2"/>
<use href="#mC" x="594.6" y="188.7"/>
<use href="#mU" x="484.4" y="107.3"/>
<use href="#mU" x="507.9" y="109.7"/>
<use href="#mU" x="663.8" y="97.9"/>
<use href="#mU" x="686.2" y="139.3"/>
<use href="#mU" x="507.9" y="154"/>
<use href="#mU" x="484.3" y="161.2"/>
<use href="#mU" x="593.7" y="131"/>
<use href="#mU" x="564.7" y="140.8"/>
<use href="#mU" x="566" y="148"/>
<use href="#mU" x="577.6" y="155.6"/>
<use href="#mU" x="570.1" y="158.6"/>
<use href="#mU" x="583.1" y="171.8"/>
<use href="#mU" x="589" y="127.9"/>
<use href="#mU" x="603.8" y="141.6"/>
<use href="#mU" x="617" y="189.4"/>
<use href="#mU" x="651.3" y="194.5"/>
<use href="#mU" x="675.9" y="159.6"/>
<use href="#mU" x="711.2" y="159.4"/>
<use href="#mU" x="689.5" y="178.2"/>
<use href="#mU" x="679.5" y="190.3"/>
<use href="#mU" x="696.3" y="203.1"/>
<use href="#mD" x="445.3" y="84.2"/>
<use href="#mD" x="456.9" y="83"/>
<use href="#mD" x="497" y="100.9"/>
<use href="#mD" x="541.8" y="111.3"/>
<use href="#mD" x="537" y="114.8"/>
<use href="#mD" x="555" y="82.5"/>
<use href="#mD" x="561.6" y="92.6"/>
<use href="#mD" x="573.4" y="97"/>
<use href="#mD" x="583.5" y="115.5"/>
<use href="#mD" x="600.9" y="82.8"/>
<use href="#mD" x="600.4" y="90.6"/>
<use href="#mD" x="616.7" y="85.7"/>
<use href="#mD" x="629" y="102.5"/>
<use href="#mD" x="620.8" y="44.7"/>
<use href="#mD" x="625.8" y="49.8"/>
<use href="#mD" x="617.3" y="53.5"/>
<use href="#mD" x="490.8" y="136.6"/>
<use href="#mD" x="459.6" y="139.5"/>
<use href="#mD" x="459.6" y="144.7"/>
<use href="#mD" x="567.4" y="144.8"/>
<use href="#mD" x="589.4" y="177"/>
<use href="#mD" x="618.3" y="145.3"/>
<use href="#mD" x="526.9" y="76.2"/>
<use href="#mG" x="449.2" y="88.7"/>
<use href="#mG" x="460.1" y="85.7"/>
<use href="#mG" x="500.5" y="104.6"/>
<use href="#mG" x="532.5" y="82"/>
<use href="#mG" x="560.6" y="88.6"/>
<use href="#mG" x="568.5" y="100.5"/>
<use href="#mG" x="579.9" y="103.9"/>
<use href="#mG" x="547.7" y="118.2"/>
<use href="#mG" x="542.2" y="120.7"/>
<use href="#mG" x="547.6" y="128.5"/>
<use href="#mG" x="608.1" y="90.5"/>
<use href="#mG" x="607" y="97.6"/>
<use href="#mG" x="624.1" y="94.1"/>
<use href="#mG" x="635.4" y="109.9"/>
<use href="#mG" x="628.9" y="55"/>
<use href="#mG" x="634.6" y="60.4"/>
<use href="#mG" x="625.6" y="62.9"/>
<use href="#mG" x="493.6" y="139.8"/>
<use href="#mG" x="462.6" y="142.8"/>
<use href="#mG" x="463.6" y="147.7"/>
<use href="#mG" x="571.9" y="149.1"/>
<use href="#mG" x="593.8" y="182.2"/>
<use href="#mG" x="589" y="122.1"/>
<use href="#mG" x="624" y="151.5"/>
<use href="#mS" x="167" y="437.1"/>
<use href="#mS" x="186" y="449.4"/>
<use href="#mS" x="200.1" y="437.8"/>
<use href="#mS" x="214" y="438"/>
<use href="#mS" x="214" y="443"/>
<use href="#mS" x="197.6" y="456"/>
<use href="#mS" x="285.4" y="458.1"/>
<use href="#mS" x="301.5" y="461.2"/>
<use href="#mS" x="315.5" y="440.3"/>
<use href="#mS" x="143.9" y="446"/>
<use href="#mS" x="187.8" y="349.3"/>
<use href="#mS" x="186" y="388.9"/>
<use href="#mS" x="238.8" y="309.8"/>
<use href="#mS" x="251.2" y="322.6"/>
<use href="#mS" x="293.1" y="332.3"/>
<use href="#mS" x="321" y="311.3"/>
<use href="#mS" x="284.6" y="355.8"/>
<use href="#mS" x="300.9" y="383.4"/>
<use href="#mC" x="120.3" y="465.5"/>
<use href="#mC" x="120.4" y="488.5"/>
<use href="#mC" x="143.9" y="446.2"/>
<use href="#mC" x="212.1" y="456"/>
<use href="#mC" x="231.2" y="439.6"/>
<use href="#mC" x="226.1" y="443.2"/>
<use href="#mC" x="222.2" y="449.8"/>
<use href="#mC" x="251.7" y="439"/>
<use href="#mC" x="329.7" y="440.3"/>
<use href="#mC" x="317.3" y="458.1"/>
<use href="#mC" x="327.2" y="461.4"/>
<use href="#mC" x="206.7" y="349.6"/>
<use href="#mC" x="219.4" y="389"/>
<use href="#mC" x="248.2" y="309.8"/>
<use href="#mC" x="280.3" y="322.6"/>
<use href="#mC" x="335" y="311.3"/>
<use href="#mC" x="311.9" y="332.3"/>
<use href="#mC" x="291.7" y="356.1"/>
<use href="#mC" x="315.9" y="383.9"/>
<use href="#mU" x="120.4" y="486.5"/>
<use href="#mU" x="143.9" y="444.9"/>
<use href="#mU" x="143.9" y="464.8"/>
<use href="#mU" x="203.8" y="436.1"/>
<use href="#mU" x="199.7" y="442.8"/>
<use href="#mU" x="206.4" y="455.6"/>
<use href="#mU" x="219.4" y="436.1"/>
<use href="#mU" x="225.7" y="449"/>
<use href="#mU" x="239.7" y="436.1"/>
<use href="#mU" x="332.6" y="439.5"/>
<use href="#mU" x="311.9" y="457.3"/>
<use href="#mU" x="325.6" y="460.6"/>
<use href="#mU" x="213.4" y="348.8"/>
<use href="#mU" x="229.7" y="388.2"/>
<use href="#mU" x="253.1" y="308.8"/>
<use href="#mU" x="347.4" y="310.3"/>
<use href="#mU" x="299.8" y="321.7"/>
<use href="#mU" x="322.3" y="331.3"/>
<use href="#mU" x="287.8" y="355.3"/>
<use href="#mU" x="315.4" y="382.9"/>
<use href="#mD" x="81.6" y="452.4"/>
<use href="#mD" x="93" y="446"/>
<use href="#mD" x="132.5" y="466.4"/>
<use href="#mD" x="96.3" y="482.6"/>
<use href="#mD" x="96" y="487.3"/>
<use href="#mD" x="127" y="489.6"/>
<use href="#mD" x="173" y="438.6"/>
<use href="#mD" x="178.2" y="456.8"/>
<use href="#mD" x="202.8" y="442.8"/>
<use href="#mD" x="197.6" y="449.8"/>
<use href="#mD" x="219.2" y="438.2"/>
<use href="#mD" x="236.4" y="440.7"/>
<use href="#mD" x="254" y="439.4"/>
<use href="#mD" x="252.8" y="458.7"/>
<use href="#mD" x="265.3" y="461.8"/>
<use href="#mD" x="162.6" y="310.5"/>
<use href="#mD" x="177.7" y="350"/>
<use href="#mD" x="210" y="357"/>
<use href="#mD" x="191" y="389.4"/>
<use href="#mD" x="236.5" y="384"/>
<use href="#mD" x="256.8" y="311.8"/>
<use href="#mD" x="261.5" y="323.6"/>
<use href="#mD" x="253.4" y="333.5"/>
<use href="#mG" x="85.3" y="452.2"/>
<use href="#mG" x="96.5" y="445.3"/>
<use href="#mG" x="136.5" y="465.3"/>
<use href="#mG" x="99.9" y="482.8"/>
<use href="#mG" x="98.7" y="487.8"/>
<use href="#mG" x="129.7" y="489"/>
<use href="#mG" x="178.6" y="438.2"/>
<use href="#mG" x="183.6" y="456.4"/>
<use href="#mG" x="208" y="442.3"/>
<use href="#mG" x="205.1" y="449.4"/>
<use href="#mG" x="225.2" y="437.8"/>
<use href="#mG" x="230.6" y="437"/>
<use href="#mG" x="243.9" y="440.3"/>
<use href="#mG" x="260" y="438.6"/>
<use href="#mG" x="260" y="458.3"/>
<use href="#mG" x="271.9" y="461"/>
<use href="#mG" x="168.8" y="309.7"/>
<use href="#mG" x="184" y="349.3"/>
<use href="#mG" x="216.4" y="356.2"/>
<use href="#mG" x="197.2" y="389"/>
<use href="#mG" x="243.2" y="383.3"/>
<use href="#mG" x="265.5" y="310.8"/>
<use href="#mG" x="270.4" y="322.4"/>
<use href="#mG" x="261.7" y="332.3"/>
<use href="#mS" x="484.5" y="306.1"/>
<use href="#mS" x="531" y="342"/>
<use href="#mS" x="549.7" y="309.2"/>
<use href="#mS" x="549.8" y="330.4"/>
<use href="#mS" x="564.8" y="334.9"/>
<use href="#mS" x="579" y="339.6"/>
<use href="#mS" x="507.8" y="403.8"/>
<use href="#mS" x="549.9" y="401.2"/>
<use href="#mS" x="561.2" y="400.7"/>
<use href="#mS" x="578.6" y="422"/>
<use href="#mS" x="581.2" y="439.2"/>
<use href="#mS" x="602.9" y="474.8"/>
<use href="#mS" x="614.9" y="293.9"/>
<use href="#mS" x="649.4" y="374"/>
<use href="#mS" x="657" y="381.9"/>
<use href="#mS" x="665.5" y="400.4"/>
<use href="#mS" x="684.8" y="415.7"/>
<use href="#mS" x="679.3" y="454.9"/>
<use href="#mS" x="664.9" y="460"/>
<use href="#mS" x="648.8" y="488.9"/>
<use href="#mC" x="484.3" y="333"/>
<use href="#mC" x="484.3" y="398.6"/>
<use href="#mC" x="507.8" y="417.9"/>
<use href="#mC" x="586.5" y="372.9"/>
<use href="#mC" x="592.6" y="383.3"/>
<use href="#mC" x="583.3" y="386"/>
<use href="#mC" x="566.2" y="410.1"/>
<use href="#mC" x="575.2" y="422.8"/>
<use href="#mC" x="570.6" y="434.5"/>
<use href="#mC" x="589.6" y="440.2"/>
<use href="#mC" x="595" y="465.2"/>
<use href="#mC" x="612.2" y="489.2"/>
<use href="#mC" x="616.3" y="403.1"/>
<use href="#mC" x="644.1" y="343.3"/>
<use href="#mC" x="675.8" y="413.7"/>
<use href="#mC" x="680.7" y="427.2"/>
<use href="#mC" x="690.1" y="443"/>
<use href="#mC" x="699" y="439.6"/>
<use href="#mC" x="679.7" y="489.3"/>
<use href="#mC" x="693.9" y="481.3"/>
<use href="#mC" x="655.6" y="501.8"/>
<use href="#mU" x="484.4" y="328.8"/>
<use href="#mU" x="507.8" y="347.8"/>
<use href="#mU" x="484.3" y="401.1"/>
<use href="#mU" x="507.8" y="415.8"/>
<use href="#mU" x="589" y="381"/>
<use href="#mU" x="564.7" y="399.8"/>
<use href="#mU" x="566.7" y="411.1"/>
<use href="#mU" x="570.1" y="417.5"/>
<use href="#mU" x="593.8" y="403.7"/>
<use href="#mU" x="603.8" y="403.2"/>
<use href="#mU" x="583.2" y="443.2"/>
<use href="#mU" x="577.3" y="446.7"/>
<use href="#mU" x="616.9" y="501.3"/>
<use href="#mU" x="651.7" y="501.3"/>
<use href="#mU" x="663.8" y="375.9"/>
<use href="#mU" x="675.9" y="418.3"/>
<use href="#mU" x="686.1" y="429.7"/>
<use href="#mU" x="689.4" y="440.4"/>
<use href="#mU" x="711.3" y="459"/>
<use href="#mU" x="679.3" y="480.6"/>
<use href="#mU" x="696.3" y="480.6"/>
<use href="#mU" x="622.5" y="413"/>
<use href="#mD" x="445.3" y="321.5"/>
<use href="#mD" x="456.9" y="321.5"/>
<use href="#mD" x="496.7" y="335.2"/>
<use href="#mD" x="527.1" y="349"/>
<use href="#mD" x="491" y="366"/>
<use href="#mD" x="537.2" y="367.2"/>
<use href="#mD" x="542.8" y="368.5"/>
<use href="#mD" x="561.4" y="332.2"/>
<use href="#mD" x="555" y="340.3"/>
<use href="#mD" x="573.8" y="367.5"/>
<use href="#mD" x="583.6" y="370"/>
<use href="#mD" x="542.2" y="388.6"/>
<use href="#mD" x="567.6" y="404.8"/>
<use href="#mD" x="589.6" y="450.2"/>
<use href="#mD" x="620.6" y="308.3"/>
<use href="#mD" x="625.7" y="312.7"/>
<use href="#mD" x="617.1" y="314.7"/>
<use href="#mD" x="616.7" y="319.7"/>
<use href="#mD" x="600.9" y="323.5"/>
<use href="#mD" x="628.9" y="339.3"/>
<use href="#mD" x="600.4" y="352.2"/>
<use href="#mD" x="618.3" y="407.5"/>
<use href="#mD" x="459.6" y="372.3"/>
<use href="#mD" x="460.6" y="382"/>
<use href="#mG" x="449.1" y="326.5"/>
<use href="#mG" x="460.1" y="326.2"/>
<use href="#mG" x="500.5" y="341.3"/>
<use href="#mG" x="532.5" y="357.1"/>
<use href="#mG" x="493.8" y="370.3"/>
<use href="#mG" x="542.2" y="374.5"/>
<use href="#mG" x="547.6" y="377.4"/>
<use href="#mG" x="568.7" y="343.2"/>
<use href="#mG" x="560.8" y="349.4"/>
<use href="#mG" x="580.3" y="377.4"/>
<use href="#mG" x="589" y="377.9"/>
<use href="#mG" x="547.5" y="397"/>
<use href="#mG" x="572.1" y="411.1"/>
<use href="#mG" x="594.2" y="456.6"/>
<use href="#mG" x="629.3" y="321.3"/>
<use href="#mG" x="634.7" y="327"/>
<use href="#mG" x="625.5" y="327"/>
<use href="#mG" x="624.1" y="331"/>
<use href="#mG" x="607.8" y="334.5"/>
<use href="#mG" x="635.6" y="350"/>
<use href="#mG" x="607" y="362.3"/>
<use href="#mG" x="623.7" y="415.9"/>
<use href="#mG" x="462.6" y="376.2"/>
<use href="#mG" x="463.4" y="385.6"/>
<rect x="253" y="141.9" width="94.2" height="88.4" fill="#fff" stroke="#999" stroke-width="1.3"/>
<use href="#mS" x="270.4" y="152.2"/>
<text x="290.30" y="156.60" font-size="12.7" text-anchor="start" >JVB</text>
<use href="#mC" x="270.4" y="169.3"/>
<text x="290.30" y="173.70" font-size="12.7" text-anchor="start" >IE</text>
<use href="#mU" x="270.4" y="186.4"/>
<text x="290.30" y="190.80" font-size="12.7" text-anchor="start" >FM</text>
<use href="#mD" x="270.4" y="203.5"/>
<text x="290.30" y="207.90" font-size="12.7" text-anchor="start" >Infra (lin)</text>
<use href="#mG" x="270.4" y="220.6"/>
<text x="290.30" y="225.00" font-size="12.7" text-anchor="start" >Infra (ws)</text>
</svg></body></html>
